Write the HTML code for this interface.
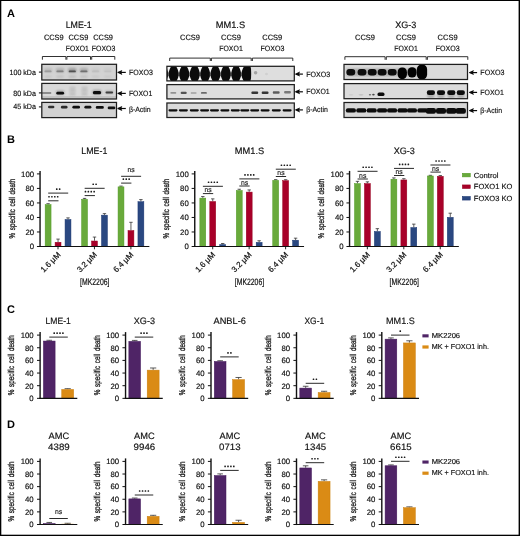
<!DOCTYPE html>
<html><head><meta charset="utf-8"><title>Figure</title>
<style>html,body{margin:0;padding:0;background:#fff;}body{width:520px;height:536px;overflow:hidden;font-family:"Liberation Sans", sans-serif;}svg{display:block;font-family:"Liberation Sans", sans-serif;}</style></head><body>
<svg width="520" height="536" viewBox="0 0 520 536" style="will-change:transform;opacity:0.9999" text-rendering="geometricPrecision">
<defs>
<filter id="b1" x="-30%" y="-80%" width="160%" height="260%"><feGaussianBlur stdDeviation="0.7"/></filter>
<filter id="b2" x="-30%" y="-80%" width="160%" height="260%"><feGaussianBlur stdDeviation="1.0"/></filter>
<filter id="b05" x="-30%" y="-80%" width="160%" height="260%"><feGaussianBlur stdDeviation="0.45"/></filter>
</defs>
<rect x="0" y="0" width="520" height="536" fill="#ffffff"/>
<rect x="0.00" y="0.00" width="520.00" height="1.00" fill="#000"/>
<rect x="0.00" y="0.00" width="1.30" height="536.00" fill="#000"/>
<rect x="518.60" y="0.00" width="1.40" height="536.00" fill="#000"/>
<rect x="0.00" y="534.70" width="520.00" height="1.30" fill="#000"/>
<text x="7.1" y="16.7" font-size="11" font-weight="bold" fill="#000">A</text>
<text x="7.1" y="142.6" font-size="11" font-weight="bold" fill="#000">B</text>
<text x="7.1" y="312.5" font-size="11" font-weight="bold" fill="#000">C</text>
<text x="7.1" y="427.5" font-size="11" font-weight="bold" fill="#000">D</text>
<text x="78.7" y="27.8" font-size="9.3" text-anchor="middle" textLength="26" lengthAdjust="spacingAndGlyphs" fill="#111" stroke="#111" stroke-width="0.16">LME-1</text>
<text x="53.8" y="39.9" font-size="7.6" text-anchor="middle" textLength="19.8" lengthAdjust="spacingAndGlyphs" fill="#111" stroke="#111" stroke-width="0.16">CCS9</text>
<text x="78.4" y="39.9" font-size="7.6" text-anchor="middle" textLength="19.8" lengthAdjust="spacingAndGlyphs" fill="#111" stroke="#111" stroke-width="0.16">CCS9</text>
<text x="103.1" y="39.9" font-size="7.6" text-anchor="middle" textLength="19.8" lengthAdjust="spacingAndGlyphs" fill="#111" stroke="#111" stroke-width="0.16">CCS9</text>
<text x="77.3" y="51.4" font-size="7.6" text-anchor="middle" textLength="23" lengthAdjust="spacingAndGlyphs" fill="#111" stroke="#111" stroke-width="0.16">FOXO1</text>
<text x="103.6" y="51.4" font-size="7.6" text-anchor="middle" textLength="23.6" lengthAdjust="spacingAndGlyphs" fill="#111" stroke="#111" stroke-width="0.16">FOXO3</text>
<path d="M42.4,59.7 L42.4,56.5 L65.9,56.5 L65.9,59.7" fill="none" stroke="#1a1a1a" stroke-width="0.9"/>
<path d="M66.9,59.7 L66.9,56.5 L90.5,56.5 L90.5,59.7" fill="none" stroke="#1a1a1a" stroke-width="0.9"/>
<path d="M91.7,59.7 L91.7,56.5 L114.8,56.5 L114.8,59.7" fill="none" stroke="#1a1a1a" stroke-width="0.9"/>
<text x="35.9" y="74.9" font-size="7.6" text-anchor="end" textLength="26.4" lengthAdjust="spacingAndGlyphs" fill="#111" stroke="#111" stroke-width="0.16">100 kDa</text>
<text x="35.9" y="95.7" font-size="7.6" text-anchor="end" textLength="22.7" lengthAdjust="spacingAndGlyphs" fill="#111" stroke="#111" stroke-width="0.16">80 kDa</text>
<text x="35.9" y="109.4" font-size="7.6" text-anchor="end" textLength="22.7" lengthAdjust="spacingAndGlyphs" fill="#111" stroke="#111" stroke-width="0.16">45 kDa</text>
<line x1="38.9" y1="72.1" x2="41.8" y2="72.1" stroke="#111" stroke-width="1.1" stroke-linecap="butt"/>
<line x1="38.9" y1="92.9" x2="41.8" y2="92.9" stroke="#111" stroke-width="1.1" stroke-linecap="butt"/>
<line x1="38.9" y1="106.9" x2="41.8" y2="106.9" stroke="#111" stroke-width="1.1" stroke-linecap="butt"/>
<clipPath id="c1"><rect x="41.8" y="64.3" width="74.70" height="15.70"/></clipPath>
<rect x="41.80" y="64.30" width="74.70" height="15.70" fill="#d3d3d3"/>
<g clip-path="url(#c1)">
<rect x="43.90" y="68.00" width="8.20" height="4.60" rx="1.5" fill="#0a0a0a" opacity="0.11000000000000001" filter="url(#b2)"/>
<rect x="44.40" y="70.45" width="7.20" height="1.90" rx="1.0" fill="#0a0a0a" opacity="0.2" filter="url(#b1)"/>
<rect x="44.30" y="75.80" width="7.40" height="1.60" rx="1" fill="#0a0a0a" opacity="0.09" filter="url(#b2)"/>
<rect x="55.90" y="68.00" width="8.20" height="4.60" rx="1.5" fill="#0a0a0a" opacity="0.164" filter="url(#b2)"/>
<rect x="56.40" y="70.45" width="7.20" height="1.90" rx="1.0" fill="#0a0a0a" opacity="0.32" filter="url(#b1)"/>
<rect x="56.30" y="75.80" width="7.40" height="1.60" rx="1" fill="#0a0a0a" opacity="0.108" filter="url(#b2)"/>
<rect x="68.20" y="68.00" width="8.20" height="4.60" rx="1.5" fill="#0a0a0a" opacity="0.2720000000000001" filter="url(#b2)"/>
<rect x="68.70" y="70.45" width="7.20" height="1.90" rx="1.0" fill="#0a0a0a" opacity="0.56" filter="url(#b1)"/>
<rect x="68.60" y="75.80" width="7.40" height="1.60" rx="1" fill="#0a0a0a" opacity="0.14400000000000002" filter="url(#b2)"/>
<rect x="79.80" y="68.00" width="8.20" height="4.60" rx="1.5" fill="#0a0a0a" opacity="0.2" filter="url(#b2)"/>
<rect x="80.30" y="70.45" width="7.20" height="1.90" rx="1.0" fill="#0a0a0a" opacity="0.4" filter="url(#b1)"/>
<rect x="80.20" y="75.80" width="7.40" height="1.60" rx="1" fill="#0a0a0a" opacity="0.12" filter="url(#b2)"/>
<rect x="91.50" y="68.00" width="8.20" height="4.60" rx="1.5" fill="#0a0a0a" opacity="0.047" filter="url(#b2)"/>
<rect x="92.00" y="70.45" width="7.20" height="1.90" rx="1.0" fill="#0a0a0a" opacity="0.06" filter="url(#b1)"/>
<rect x="91.90" y="75.80" width="7.40" height="1.60" rx="1" fill="#0a0a0a" opacity="0.06899999999999999" filter="url(#b2)"/>
<rect x="103.70" y="68.00" width="8.20" height="4.60" rx="1.5" fill="#0a0a0a" opacity="0.038000000000000006" filter="url(#b2)"/>
<rect x="104.20" y="70.45" width="7.20" height="1.90" rx="1.0" fill="#0a0a0a" opacity="0.04" filter="url(#b1)"/>
<rect x="104.10" y="75.80" width="7.40" height="1.60" rx="1" fill="#0a0a0a" opacity="0.066" filter="url(#b2)"/>
</g>
<rect x="41.8" y="64.3" width="74.70" height="15.70" fill="none" stroke="#1e1e1e" stroke-width="1.25"/>
<clipPath id="c2"><rect x="41.8" y="83.4" width="74.70" height="15.60"/></clipPath>
<rect x="41.80" y="83.40" width="74.70" height="15.60" fill="#d9d9d9"/>
<g clip-path="url(#c2)">
<rect x="41.50" y="96.00" width="75.00" height="3.20" fill="#c4c4c4" filter="url(#b1)"/>
<rect x="41.80" y="92.35" width="9.60" height="1.50" rx="1" fill="#0a0a0a" opacity="0.5" filter="url(#b1)"/>
<rect x="55.90" y="90.30" width="8.60" height="4.60" rx="2" fill="#0a0a0a" opacity="0.22" filter="url(#b2)"/>
<rect x="56.30" y="91.80" width="7.80" height="2.80" rx="1.4" fill="#0a0a0a" opacity="1.0" filter="url(#b1)"/>
<rect x="92.30" y="89.70" width="9.40" height="5.00" rx="2" fill="#0a0a0a" opacity="0.25" filter="url(#b2)"/>
<rect x="92.90" y="91.00" width="8.20" height="3.20" rx="1.5" fill="#0a0a0a" opacity="1.0" filter="url(#b1)"/>
<rect x="105.50" y="91.45" width="7.60" height="2.10" rx="1" fill="#0a0a0a" opacity="0.7" filter="url(#b1)"/>
<rect x="105.10" y="90.30" width="8.40" height="4.00" rx="1" fill="#0a0a0a" opacity="0.14" filter="url(#b2)"/>
<rect x="69.75" y="86.80" width="5.50" height="1.40" rx="1" fill="#0a0a0a" opacity="0.08" filter="url(#b2)"/>
<rect x="69.50" y="89.75" width="6.00" height="1.50" rx="1" fill="#0a0a0a" opacity="0.11" filter="url(#b2)"/>
<rect x="69.50" y="93.45" width="6.00" height="1.50" rx="1" fill="#0a0a0a" opacity="0.11" filter="url(#b2)"/>
<rect x="69.25" y="86.50" width="6.50" height="9.00" rx="1" fill="#0a0a0a" opacity="0.05" filter="url(#b2)"/>
<rect x="81.75" y="86.80" width="5.50" height="1.40" rx="1" fill="#0a0a0a" opacity="0.08" filter="url(#b2)"/>
<rect x="81.50" y="89.75" width="6.00" height="1.50" rx="1" fill="#0a0a0a" opacity="0.11" filter="url(#b2)"/>
<rect x="81.50" y="93.45" width="6.00" height="1.50" rx="1" fill="#0a0a0a" opacity="0.11" filter="url(#b2)"/>
<rect x="81.25" y="86.50" width="6.50" height="9.00" rx="1" fill="#0a0a0a" opacity="0.05" filter="url(#b2)"/>
</g>
<rect x="41.8" y="83.4" width="74.70" height="15.60" fill="none" stroke="#1e1e1e" stroke-width="1.25"/>
<clipPath id="c3"><rect x="41.8" y="102.4" width="74.70" height="15.20"/></clipPath>
<rect x="41.80" y="102.40" width="74.70" height="15.20" fill="#d2d2d2"/>
<g clip-path="url(#c3)">
<rect x="48.00" y="105.65" width="6.40" height="2.70" rx="1.3" fill="#0a0a0a" opacity="0.82" filter="url(#b1)"/>
<rect x="60.90" y="105.75" width="6.60" height="2.70" rx="1.3" fill="#0a0a0a" opacity="0.85" filter="url(#b1)"/>
<rect x="72.40" y="105.85" width="7.60" height="2.70" rx="1.3" fill="#0a0a0a" opacity="1.0" filter="url(#b1)"/>
<rect x="84.40" y="105.85" width="7.00" height="2.70" rx="1.3" fill="#0a0a0a" opacity="0.97" filter="url(#b1)"/>
<rect x="95.80" y="106.05" width="8.00" height="2.70" rx="1.3" fill="#0a0a0a" opacity="1.0" filter="url(#b1)"/>
<rect x="107.70" y="106.55" width="7.60" height="2.70" rx="1.3" fill="#0a0a0a" opacity="0.97" filter="url(#b1)"/>
</g>
<rect x="41.8" y="102.4" width="74.70" height="15.20" fill="none" stroke="#1e1e1e" stroke-width="1.25"/>
<line x1="120.2" y1="72.4" x2="125.8" y2="72.4" stroke="#0a0a0a" stroke-width="1.2" stroke-linecap="butt"/>
<path d="M117.50,71.95 L122.30,69.90 L121.40,72.40 L122.30,74.90 L117.50,72.85 Z" fill="#0a0a0a"/>
<text x="128.9" y="75.3" font-size="7.6" textLength="24.0" lengthAdjust="spacingAndGlyphs" fill="#111" stroke="#111" stroke-width="0.16">FOXO3</text>
<line x1="120.2" y1="93.4" x2="125.8" y2="93.4" stroke="#0a0a0a" stroke-width="1.2" stroke-linecap="butt"/>
<path d="M117.50,92.95 L122.30,90.90 L121.40,93.40 L122.30,95.90 L117.50,93.85 Z" fill="#0a0a0a"/>
<text x="128.9" y="96.1" font-size="7.6" textLength="23.4" lengthAdjust="spacingAndGlyphs" fill="#111" stroke="#111" stroke-width="0.16">FOXO1</text>
<line x1="120.2" y1="108.5" x2="125.8" y2="108.5" stroke="#0a0a0a" stroke-width="1.2" stroke-linecap="butt"/>
<path d="M117.50,108.05 L122.30,106.00 L121.40,108.50 L122.30,111.00 L117.50,108.95 Z" fill="#0a0a0a"/>
<text x="128.9" y="111.6" font-size="7.6" textLength="21.8" lengthAdjust="spacingAndGlyphs" fill="#111" stroke="#111" stroke-width="0.16">β-Actin</text>
<text x="230.4" y="27.8" font-size="9.3" text-anchor="middle" textLength="29.4" lengthAdjust="spacingAndGlyphs" fill="#111" stroke="#111" stroke-width="0.16">MM1.S</text>
<text x="190.0" y="39.9" font-size="7.6" text-anchor="middle" textLength="20.0" lengthAdjust="spacingAndGlyphs" fill="#111" stroke="#111" stroke-width="0.16">CCS9</text>
<text x="231.0" y="39.9" font-size="7.6" text-anchor="middle" textLength="20.0" lengthAdjust="spacingAndGlyphs" fill="#111" stroke="#111" stroke-width="0.16">CCS9</text>
<text x="272.3" y="39.9" font-size="7.6" text-anchor="middle" textLength="20.0" lengthAdjust="spacingAndGlyphs" fill="#111" stroke="#111" stroke-width="0.16">CCS9</text>
<text x="231.0" y="51.4" font-size="7.6" text-anchor="middle" textLength="23.5" lengthAdjust="spacingAndGlyphs" fill="#111" stroke="#111" stroke-width="0.16">FOXO1</text>
<text x="272.5" y="51.4" font-size="7.6" text-anchor="middle" textLength="24.0" lengthAdjust="spacingAndGlyphs" fill="#111" stroke="#111" stroke-width="0.16">FOXO3</text>
<path d="M169.7,61.0 L169.7,58.1 L210.3,58.1 L210.3,61.0" fill="none" stroke="#1a1a1a" stroke-width="0.9"/>
<path d="M211.4,61.0 L211.4,58.1 L251.2,58.1 L251.2,61.0" fill="none" stroke="#1a1a1a" stroke-width="0.9"/>
<path d="M252.4,61.0 L252.4,58.1 L292.8,58.1 L292.8,61.0" fill="none" stroke="#1a1a1a" stroke-width="0.9"/>
<clipPath id="c4"><rect x="166.9" y="66.3" width="127.40" height="14.60"/></clipPath>
<rect x="166.90" y="66.30" width="127.40" height="14.60" fill="#dedede"/>
<g clip-path="url(#c4)">
<rect x="166.90" y="65.00" width="84.50" height="17.00" fill="#0b0b0b"/>
<path d="M165.40,65.8 L171.40,65.8 Q169.50,69.0 168.60,72.4 L168.20,72.4 Q167.30,69.0 165.40,65.8 Z" fill="#f8f8f8" filter="url(#b1)"/>
<path d="M165.70,81.4 L171.10,81.4 Q169.40,78.8 168.60,76.0 L168.20,76.0 Q167.40,78.8 165.70,81.4 Z" fill="#f8f8f8" filter="url(#b1)"/>
<rect x="167.90" y="71" width="1.0" height="6.5" fill="#cfcfcf" opacity="0.5" filter="url(#b05)"/>
<path d="M175.90,65.8 L181.90,65.8 Q180.00,69.0 179.10,72.4 L178.70,72.4 Q177.80,69.0 175.90,65.8 Z" fill="#f8f8f8" filter="url(#b1)"/>
<path d="M176.20,81.4 L181.60,81.4 Q179.90,78.8 179.10,76.0 L178.70,76.0 Q177.90,78.8 176.20,81.4 Z" fill="#f8f8f8" filter="url(#b1)"/>
<rect x="178.40" y="71" width="1.0" height="6.5" fill="#cfcfcf" opacity="0.5" filter="url(#b05)"/>
<path d="M186.50,65.8 L192.50,65.8 Q190.60,69.0 189.70,72.4 L189.30,72.4 Q188.40,69.0 186.50,65.8 Z" fill="#f8f8f8" filter="url(#b1)"/>
<path d="M186.80,81.4 L192.20,81.4 Q190.50,78.8 189.70,76.0 L189.30,76.0 Q188.50,78.8 186.80,81.4 Z" fill="#f8f8f8" filter="url(#b1)"/>
<rect x="189.00" y="71" width="1.0" height="6.5" fill="#cfcfcf" opacity="0.5" filter="url(#b05)"/>
<path d="M197.00,65.8 L203.00,65.8 Q201.10,69.0 200.20,72.4 L199.80,72.4 Q198.90,69.0 197.00,65.8 Z" fill="#f8f8f8" filter="url(#b1)"/>
<path d="M197.30,81.4 L202.70,81.4 Q201.00,78.8 200.20,76.0 L199.80,76.0 Q199.00,78.8 197.30,81.4 Z" fill="#f8f8f8" filter="url(#b1)"/>
<rect x="199.50" y="71" width="1.0" height="6.5" fill="#cfcfcf" opacity="0.5" filter="url(#b05)"/>
<path d="M207.30,65.8 L213.30,65.8 Q211.40,69.0 210.50,72.4 L210.10,72.4 Q209.20,69.0 207.30,65.8 Z" fill="#f8f8f8" filter="url(#b1)"/>
<path d="M207.60,81.4 L213.00,81.4 Q211.30,78.8 210.50,76.0 L210.10,76.0 Q209.30,78.8 207.60,81.4 Z" fill="#f8f8f8" filter="url(#b1)"/>
<rect x="209.80" y="71" width="1.0" height="6.5" fill="#cfcfcf" opacity="0.5" filter="url(#b05)"/>
<path d="M217.60,65.8 L223.60,65.8 Q221.70,69.0 220.80,72.4 L220.40,72.4 Q219.50,69.0 217.60,65.8 Z" fill="#f8f8f8" filter="url(#b1)"/>
<path d="M217.90,81.4 L223.30,81.4 Q221.60,78.8 220.80,76.0 L220.40,76.0 Q219.60,78.8 217.90,81.4 Z" fill="#f8f8f8" filter="url(#b1)"/>
<rect x="220.10" y="71" width="1.0" height="6.5" fill="#cfcfcf" opacity="0.5" filter="url(#b05)"/>
<path d="M228.00,65.8 L234.00,65.8 Q232.10,69.0 231.20,72.4 L230.80,72.4 Q229.90,69.0 228.00,65.8 Z" fill="#f8f8f8" filter="url(#b1)"/>
<path d="M228.30,81.4 L233.70,81.4 Q232.00,78.8 231.20,76.0 L230.80,76.0 Q230.00,78.8 228.30,81.4 Z" fill="#f8f8f8" filter="url(#b1)"/>
<rect x="230.50" y="71" width="1.0" height="6.5" fill="#cfcfcf" opacity="0.5" filter="url(#b05)"/>
<path d="M238.30,65.8 L244.30,65.8 Q242.40,69.0 241.50,72.4 L241.10,72.4 Q240.20,69.0 238.30,65.8 Z" fill="#f8f8f8" filter="url(#b1)"/>
<path d="M238.60,81.4 L244.00,81.4 Q242.30,78.8 241.50,76.0 L241.10,76.0 Q240.30,78.8 238.60,81.4 Z" fill="#f8f8f8" filter="url(#b1)"/>
<rect x="240.80" y="71" width="1.0" height="6.5" fill="#cfcfcf" opacity="0.5" filter="url(#b05)"/>
<path d="M250.2,65 Q252.6,73.5 250.2,82 L253.5,82 L253.5,65 Z" fill="#dedede" filter="url(#b05)"/>
<ellipse cx="255.6" cy="72.8" rx="1.75" ry="1.75" fill="#0a0a0a" opacity="0.28" filter="url(#b1)"/>
<ellipse cx="266.5" cy="74.0" rx="1.50" ry="1.25" fill="#0a0a0a" opacity="0.06" filter="url(#b1)"/>
</g>
<rect x="166.9" y="66.3" width="127.40" height="14.60" fill="none" stroke="#1e1e1e" stroke-width="1.25"/>
<clipPath id="c5"><rect x="166.9" y="84.6" width="127.40" height="14.30"/></clipPath>
<rect x="166.90" y="84.60" width="127.40" height="14.30" fill="#dedede"/>
<g clip-path="url(#c5)">
<rect x="170.30" y="92.10" width="6.00" height="1.60" rx="1" fill="#0a0a0a" opacity="0.36" filter="url(#b1)"/>
<rect x="180.70" y="91.80" width="6.00" height="2.20" rx="1" fill="#0a0a0a" opacity="0.66" filter="url(#b1)"/>
<rect x="190.60" y="92.15" width="6.00" height="1.50" rx="1" fill="#0a0a0a" opacity="0.3" filter="url(#b1)"/>
<rect x="200.90" y="91.95" width="6.00" height="1.90" rx="1" fill="#0a0a0a" opacity="0.55" filter="url(#b1)"/>
<rect x="251.40" y="91.50" width="6.80" height="2.40" rx="1" fill="#0a0a0a" opacity="0.8" filter="url(#b1)"/>
<rect x="261.70" y="91.50" width="6.80" height="2.40" rx="1" fill="#0a0a0a" opacity="0.8" filter="url(#b1)"/>
<rect x="272.80" y="91.30" width="6.80" height="2.40" rx="1" fill="#0a0a0a" opacity="0.62" filter="url(#b1)"/>
<rect x="284.10" y="91.00" width="6.80" height="2.40" rx="1" fill="#0a0a0a" opacity="0.48" filter="url(#b1)"/>
</g>
<rect x="166.9" y="84.6" width="127.40" height="14.30" fill="none" stroke="#1e1e1e" stroke-width="1.25"/>
<clipPath id="c6"><rect x="166.9" y="103.0" width="127.40" height="14.50"/></clipPath>
<rect x="166.90" y="103.00" width="127.40" height="14.50" fill="#dadada"/>
<g clip-path="url(#c6)">
<rect x="168.50" y="109.15" width="9.00" height="2.30" rx="1.1" fill="#0a0a0a" opacity="1.0" filter="url(#b05)"/>
<rect x="178.90" y="109.15" width="9.00" height="2.30" rx="1.1" fill="#0a0a0a" opacity="1.0" filter="url(#b05)"/>
<rect x="189.80" y="109.15" width="9.00" height="2.30" rx="1.1" fill="#0a0a0a" opacity="1.0" filter="url(#b05)"/>
<rect x="200.10" y="109.15" width="9.00" height="2.30" rx="1.1" fill="#0a0a0a" opacity="1.0" filter="url(#b05)"/>
<rect x="210.00" y="109.15" width="9.00" height="2.30" rx="1.1" fill="#0a0a0a" opacity="1.0" filter="url(#b05)"/>
<rect x="220.40" y="109.15" width="9.00" height="2.30" rx="1.1" fill="#0a0a0a" opacity="1.0" filter="url(#b05)"/>
<rect x="230.80" y="109.15" width="9.00" height="2.30" rx="1.1" fill="#0a0a0a" opacity="1.0" filter="url(#b05)"/>
<rect x="240.30" y="109.15" width="9.00" height="2.30" rx="1.1" fill="#0a0a0a" opacity="1.0" filter="url(#b05)"/>
<rect x="250.20" y="109.15" width="9.00" height="2.30" rx="1.1" fill="#0a0a0a" opacity="1.0" filter="url(#b05)"/>
<rect x="260.60" y="109.15" width="9.00" height="2.30" rx="1.1" fill="#0a0a0a" opacity="1.0" filter="url(#b05)"/>
<rect x="271.80" y="109.15" width="9.00" height="2.30" rx="1.1" fill="#0a0a0a" opacity="1.0" filter="url(#b05)"/>
<rect x="282.60" y="109.15" width="9.00" height="2.30" rx="1.1" fill="#0a0a0a" opacity="1.0" filter="url(#b05)"/>
</g>
<rect x="166.9" y="103.0" width="127.40" height="14.50" fill="none" stroke="#1e1e1e" stroke-width="1.25"/>
<line x1="297.9" y1="74.1" x2="302.9" y2="74.1" stroke="#0a0a0a" stroke-width="1.2" stroke-linecap="butt"/>
<path d="M295.20,73.65 L300.00,71.60 L299.10,74.10 L300.00,76.60 L295.20,74.55 Z" fill="#0a0a0a"/>
<text x="306.2" y="76.8" font-size="7.6" textLength="24.1" lengthAdjust="spacingAndGlyphs" fill="#111" stroke="#111" stroke-width="0.16">FOXO3</text>
<line x1="297.9" y1="91.8" x2="302.9" y2="91.8" stroke="#0a0a0a" stroke-width="1.2" stroke-linecap="butt"/>
<path d="M295.20,91.35 L300.00,89.30 L299.10,91.80 L300.00,94.30 L295.20,92.25 Z" fill="#0a0a0a"/>
<text x="306.2" y="94.3" font-size="7.6" textLength="23.5" lengthAdjust="spacingAndGlyphs" fill="#111" stroke="#111" stroke-width="0.16">FOXO1</text>
<line x1="297.9" y1="109.9" x2="302.9" y2="109.9" stroke="#0a0a0a" stroke-width="1.2" stroke-linecap="butt"/>
<path d="M295.20,109.45 L300.00,107.40 L299.10,109.90 L300.00,112.40 L295.20,110.35 Z" fill="#0a0a0a"/>
<text x="306.2" y="112.0" font-size="7.6" textLength="21.7" lengthAdjust="spacingAndGlyphs" fill="#111" stroke="#111" stroke-width="0.16">β-Actin</text>
<text x="405.8" y="27.8" font-size="9.3" text-anchor="middle" textLength="21.2" lengthAdjust="spacingAndGlyphs" fill="#111" stroke="#111" stroke-width="0.16">XG-3</text>
<text x="365.0" y="39.9" font-size="7.6" text-anchor="middle" textLength="20.0" lengthAdjust="spacingAndGlyphs" fill="#111" stroke="#111" stroke-width="0.16">CCS9</text>
<text x="406.0" y="39.9" font-size="7.6" text-anchor="middle" textLength="20.0" lengthAdjust="spacingAndGlyphs" fill="#111" stroke="#111" stroke-width="0.16">CCS9</text>
<text x="447.6" y="39.9" font-size="7.6" text-anchor="middle" textLength="20.0" lengthAdjust="spacingAndGlyphs" fill="#111" stroke="#111" stroke-width="0.16">CCS9</text>
<text x="406.0" y="51.4" font-size="7.6" text-anchor="middle" textLength="23.5" lengthAdjust="spacingAndGlyphs" fill="#111" stroke="#111" stroke-width="0.16">FOXO1</text>
<text x="447.7" y="51.4" font-size="7.6" text-anchor="middle" textLength="24.0" lengthAdjust="spacingAndGlyphs" fill="#111" stroke="#111" stroke-width="0.16">FOXO3</text>
<path d="M344.9,59.8 L344.9,56.7 L385.1,56.7 L385.1,59.8" fill="none" stroke="#1a1a1a" stroke-width="0.9"/>
<path d="M386.3,59.8 L386.3,56.7 L426.2,56.7 L426.2,59.8" fill="none" stroke="#1a1a1a" stroke-width="0.9"/>
<path d="M427.4,59.8 L427.4,56.7 L467.8,56.7 L467.8,59.8" fill="none" stroke="#1a1a1a" stroke-width="0.9"/>
<clipPath id="c7"><rect x="344.0" y="64.4" width="123.50" height="15.10"/></clipPath>
<rect x="344.00" y="64.40" width="123.50" height="15.10" fill="#dadada"/>
<g clip-path="url(#c7)">
<rect x="346.50" y="68.60" width="80.00" height="7.60" fill="#000" opacity="0.22" filter="url(#b2)"/>
<rect x="346.40" y="68.9" width="8.8" height="6.5" rx="3.2" ry="3.0" fill="#080808" filter="url(#b1)"/>
<rect x="357.60" y="68.9" width="8.8" height="6.5" rx="3.2" ry="3.0" fill="#080808" filter="url(#b1)"/>
<rect x="367.80" y="68.9" width="8.8" height="6.5" rx="3.2" ry="3.0" fill="#080808" filter="url(#b1)"/>
<rect x="377.70" y="68.9" width="8.8" height="6.5" rx="3.2" ry="3.0" fill="#080808" filter="url(#b1)"/>
<rect x="387.80" y="68.9" width="8.8" height="6.5" rx="3.2" ry="3.0" fill="#080808" filter="url(#b1)"/>
<rect x="397.70" y="67.40" width="9.2" height="11.8" rx="4.2" ry="4.8" fill="#060606" filter="url(#b1)"/>
<rect x="407.60" y="67.20" width="9.0" height="10.4" rx="4.2" ry="4.8" fill="#060606" filter="url(#b1)"/>
<rect x="416.90" y="64.70" width="10.2" height="14.6" rx="4.2" ry="4.8" fill="#060606" filter="url(#b1)"/>
</g>
<rect x="344.0" y="64.4" width="123.50" height="15.10" fill="none" stroke="#1e1e1e" stroke-width="1.25"/>
<clipPath id="c8"><rect x="344.0" y="83.6" width="123.50" height="15.10"/></clipPath>
<rect x="344.00" y="83.60" width="123.50" height="15.10" fill="#dcdcdc"/>
<g clip-path="url(#c8)">
<ellipse cx="351.0" cy="94.8" rx="2.50" ry="0.60" fill="#0a0a0a" opacity="0.08" filter="url(#b1)"/>
<ellipse cx="361.0" cy="94.8" rx="2.50" ry="0.65" fill="#0a0a0a" opacity="0.15" filter="url(#b1)"/>
<ellipse cx="370.0" cy="94.8" rx="1.20" ry="0.75" fill="#0a0a0a" opacity="0.55" filter="url(#b05)"/>
<ellipse cx="373.4" cy="94.6" rx="1.30" ry="0.85" fill="#0a0a0a" opacity="0.7" filter="url(#b05)"/>
<rect x="377.50" y="92.60" width="7.00" height="3.40" rx="1.6" fill="#0a0a0a" opacity="1.0" filter="url(#b1)"/>
<rect x="427.30" y="94.80" width="7.20" height="2.80" rx="1" fill="#0a0a0a" opacity="0.3" filter="url(#b2)"/>
<rect x="426.80" y="90.20" width="8.20" height="4.80" rx="2.2" fill="#0a0a0a" opacity="1.0" filter="url(#b1)"/>
<rect x="437.40" y="94.80" width="7.20" height="2.80" rx="1" fill="#0a0a0a" opacity="0.3" filter="url(#b2)"/>
<rect x="436.90" y="90.20" width="8.20" height="4.80" rx="2.2" fill="#0a0a0a" opacity="1.0" filter="url(#b1)"/>
<rect x="447.70" y="94.80" width="7.20" height="2.80" rx="1" fill="#0a0a0a" opacity="0.3" filter="url(#b2)"/>
<rect x="447.20" y="90.20" width="8.20" height="4.80" rx="2.2" fill="#0a0a0a" opacity="1.0" filter="url(#b1)"/>
<rect x="457.20" y="94.80" width="7.20" height="2.80" rx="1" fill="#0a0a0a" opacity="0.3" filter="url(#b2)"/>
<rect x="456.70" y="90.20" width="8.20" height="4.80" rx="2.2" fill="#0a0a0a" opacity="1.0" filter="url(#b1)"/>
</g>
<rect x="344.0" y="83.6" width="123.50" height="15.10" fill="none" stroke="#1e1e1e" stroke-width="1.25"/>
<clipPath id="c9"><rect x="344.0" y="102.5" width="123.50" height="15.00"/></clipPath>
<rect x="344.00" y="102.50" width="123.50" height="15.00" fill="#d8d8d8"/>
<g clip-path="url(#c9)">
<rect x="345.80" y="108.20" width="10.20" height="4.40" rx="2.2" fill="#0a0a0a" opacity="1.0" filter="url(#b1)"/>
<rect x="356.20" y="108.20" width="10.20" height="4.40" rx="2.2" fill="#0a0a0a" opacity="1.0" filter="url(#b1)"/>
<rect x="366.60" y="108.20" width="10.20" height="4.40" rx="2.2" fill="#0a0a0a" opacity="1.0" filter="url(#b1)"/>
<rect x="377.00" y="108.20" width="10.20" height="4.40" rx="2.2" fill="#0a0a0a" opacity="1.0" filter="url(#b1)"/>
<rect x="387.00" y="108.20" width="10.20" height="4.40" rx="2.2" fill="#0a0a0a" opacity="1.0" filter="url(#b1)"/>
<rect x="397.40" y="108.20" width="10.20" height="4.40" rx="2.2" fill="#0a0a0a" opacity="1.0" filter="url(#b1)"/>
<rect x="406.90" y="108.20" width="10.20" height="4.40" rx="2.2" fill="#0a0a0a" opacity="1.0" filter="url(#b1)"/>
<rect x="417.30" y="108.20" width="10.20" height="4.40" rx="2.2" fill="#0a0a0a" opacity="1.0" filter="url(#b1)"/>
<rect x="425.80" y="107.95" width="10.20" height="5.70" rx="2.2" fill="#0a0a0a" opacity="1.0" filter="url(#b1)"/>
<rect x="435.90" y="107.95" width="10.20" height="5.70" rx="2.2" fill="#0a0a0a" opacity="1.0" filter="url(#b1)"/>
<rect x="446.20" y="107.95" width="10.20" height="5.70" rx="2.2" fill="#0a0a0a" opacity="1.0" filter="url(#b1)"/>
<rect x="455.70" y="107.95" width="10.20" height="5.70" rx="2.2" fill="#0a0a0a" opacity="1.0" filter="url(#b1)"/>
</g>
<rect x="344.0" y="102.5" width="123.50" height="15.00" fill="none" stroke="#1e1e1e" stroke-width="1.25"/>
<line x1="471.8" y1="72.6" x2="477.1" y2="72.6" stroke="#0a0a0a" stroke-width="1.2" stroke-linecap="butt"/>
<path d="M469.10,72.15 L473.90,70.10 L473.00,72.60 L473.90,75.10 L469.10,73.05 Z" fill="#0a0a0a"/>
<text x="480.3" y="75.2" font-size="7.6" textLength="24.2" lengthAdjust="spacingAndGlyphs" fill="#111" stroke="#111" stroke-width="0.16">FOXO3</text>
<line x1="471.8" y1="92.4" x2="477.1" y2="92.4" stroke="#0a0a0a" stroke-width="1.2" stroke-linecap="butt"/>
<path d="M469.10,91.95 L473.90,89.90 L473.00,92.40 L473.90,94.90 L469.10,92.85 Z" fill="#0a0a0a"/>
<text x="480.3" y="94.9" font-size="7.6" textLength="23.6" lengthAdjust="spacingAndGlyphs" fill="#111" stroke="#111" stroke-width="0.16">FOXO1</text>
<line x1="471.8" y1="110.6" x2="477.1" y2="110.6" stroke="#0a0a0a" stroke-width="1.2" stroke-linecap="butt"/>
<path d="M469.10,110.15 L473.90,108.10 L473.00,110.60 L473.90,113.10 L469.10,111.05 Z" fill="#0a0a0a"/>
<text x="480.3" y="112.8" font-size="7.6" textLength="21.7" lengthAdjust="spacingAndGlyphs" fill="#111" stroke="#111" stroke-width="0.16">β-Actin</text>
<text x="94.3" y="153.5" font-size="9.3" text-anchor="middle" textLength="26.0" lengthAdjust="spacingAndGlyphs" fill="#111" stroke="#111" stroke-width="0.16">LME-1</text>
<text transform="translate(14.50,208.60) rotate(-90)" font-size="8.5" text-anchor="middle" textLength="59.6" lengthAdjust="spacingAndGlyphs" word-spacing="1.2" fill="#111" stroke="#111" stroke-width="0.28">% specific cell death</text>
<line x1="48.1" y1="203.692" x2="48.1" y2="204.392" stroke="#333" stroke-width="0.8" stroke-linecap="butt"/>
<line x1="46.4" y1="203.692" x2="49.800000000000004" y2="203.692" stroke="#333" stroke-width="0.8" stroke-linecap="butt"/>
<rect x="45.15" y="204.64" width="5.90" height="41.86" fill="#69aa3b" stroke="#539a26" stroke-width="0.5"/>
<line x1="58.05" y1="239.09879999999998" x2="58.05" y2="241.9988" stroke="#333" stroke-width="0.8" stroke-linecap="butt"/>
<line x1="56.349999999999994" y1="239.09879999999998" x2="59.75" y2="239.09879999999998" stroke="#333" stroke-width="0.8" stroke-linecap="butt"/>
<rect x="55.10" y="242.25" width="5.90" height="4.25" fill="#a80029" stroke="#96001f" stroke-width="0.5"/>
<line x1="68.0" y1="217.875" x2="68.0" y2="219.275" stroke="#333" stroke-width="0.8" stroke-linecap="butt"/>
<line x1="66.3" y1="217.875" x2="69.7" y2="217.875" stroke="#333" stroke-width="0.8" stroke-linecap="butt"/>
<rect x="65.05" y="219.53" width="5.90" height="26.97" fill="#2a4881" stroke="#1a3670" stroke-width="0.5"/>
<line x1="57.99999999999999" y1="246.5" x2="57.99999999999999" y2="249.3" stroke="#111" stroke-width="0.9" stroke-linecap="butt"/>
<text transform="translate(61.10,255.40) rotate(-45)" font-size="8.0" text-anchor="end" fill="#111" stroke="#111" stroke-width="0.2">1.6 μM</text>
<line x1="48.199999999999996" y1="200.8" x2="58.5" y2="200.8" stroke="#2a2a2a" stroke-width="1.0" stroke-linecap="butt"/>
<rect x="48.20" y="196.00" width="1.6" height="1.6" rx="0.5" fill="#1c1c1c"/>
<rect x="51.10" y="196.00" width="1.6" height="1.6" rx="0.5" fill="#1c1c1c"/>
<rect x="54.00" y="196.00" width="1.6" height="1.6" rx="0.5" fill="#1c1c1c"/>
<rect x="56.90" y="196.00" width="1.6" height="1.6" rx="0.5" fill="#1c1c1c"/>
<line x1="48.199999999999996" y1="193.1" x2="68.2" y2="193.1" stroke="#2a2a2a" stroke-width="1.0" stroke-linecap="butt"/>
<rect x="55.95" y="188.30" width="1.6" height="1.6" rx="0.5" fill="#1c1c1c"/>
<rect x="58.85" y="188.30" width="1.6" height="1.6" rx="0.5" fill="#1c1c1c"/>
<line x1="84.55" y1="198.3922" x2="84.55" y2="199.0922" stroke="#333" stroke-width="0.8" stroke-linecap="butt"/>
<line x1="82.85" y1="198.3922" x2="86.25" y2="198.3922" stroke="#333" stroke-width="0.8" stroke-linecap="butt"/>
<rect x="81.60" y="199.34" width="5.90" height="47.16" fill="#69aa3b" stroke="#539a26" stroke-width="0.5"/>
<line x1="94.5" y1="237.0646" x2="94.5" y2="240.7646" stroke="#333" stroke-width="0.8" stroke-linecap="butt"/>
<line x1="92.8" y1="237.0646" x2="96.2" y2="237.0646" stroke="#333" stroke-width="0.8" stroke-linecap="butt"/>
<rect x="91.55" y="241.01" width="5.90" height="5.49" fill="#a80029" stroke="#96001f" stroke-width="0.5"/>
<line x1="104.45" y1="213.619" x2="104.45" y2="214.919" stroke="#333" stroke-width="0.8" stroke-linecap="butt"/>
<line x1="102.75" y1="213.619" x2="106.15" y2="213.619" stroke="#333" stroke-width="0.8" stroke-linecap="butt"/>
<rect x="101.50" y="215.17" width="5.90" height="31.33" fill="#2a4881" stroke="#1a3670" stroke-width="0.5"/>
<line x1="94.45" y1="246.5" x2="94.45" y2="249.3" stroke="#111" stroke-width="0.9" stroke-linecap="butt"/>
<text transform="translate(97.55,255.40) rotate(-45)" font-size="8.0" text-anchor="end" fill="#111" stroke="#111" stroke-width="0.2">3.2 μM</text>
<line x1="84.64999999999999" y1="195.6" x2="94.94999999999999" y2="195.6" stroke="#2a2a2a" stroke-width="1.0" stroke-linecap="butt"/>
<rect x="84.65" y="190.80" width="1.6" height="1.6" rx="0.5" fill="#1c1c1c"/>
<rect x="87.55" y="190.80" width="1.6" height="1.6" rx="0.5" fill="#1c1c1c"/>
<rect x="90.45" y="190.80" width="1.6" height="1.6" rx="0.5" fill="#1c1c1c"/>
<rect x="93.35" y="190.80" width="1.6" height="1.6" rx="0.5" fill="#1c1c1c"/>
<line x1="84.64999999999999" y1="188.3" x2="104.64999999999999" y2="188.3" stroke="#2a2a2a" stroke-width="1.0" stroke-linecap="butt"/>
<rect x="92.40" y="183.50" width="1.6" height="1.6" rx="0.5" fill="#1c1c1c"/>
<rect x="95.30" y="183.50" width="1.6" height="1.6" rx="0.5" fill="#1c1c1c"/>
<line x1="121.00000000000001" y1="186.10500000000002" x2="121.00000000000001" y2="186.60500000000002" stroke="#333" stroke-width="0.8" stroke-linecap="butt"/>
<line x1="119.30000000000001" y1="186.10500000000002" x2="122.70000000000002" y2="186.10500000000002" stroke="#333" stroke-width="0.8" stroke-linecap="butt"/>
<rect x="118.05" y="186.86" width="5.90" height="59.64" fill="#69aa3b" stroke="#539a26" stroke-width="0.5"/>
<line x1="130.95000000000002" y1="222.3102" x2="130.95000000000002" y2="230.3102" stroke="#333" stroke-width="0.8" stroke-linecap="butt"/>
<line x1="129.25000000000003" y1="222.3102" x2="132.65" y2="222.3102" stroke="#333" stroke-width="0.8" stroke-linecap="butt"/>
<rect x="128.00" y="230.56" width="5.90" height="15.94" fill="#a80029" stroke="#96001f" stroke-width="0.5"/>
<line x1="140.9" y1="199.588" x2="140.9" y2="201.488" stroke="#333" stroke-width="0.8" stroke-linecap="butt"/>
<line x1="139.20000000000002" y1="199.588" x2="142.6" y2="199.588" stroke="#333" stroke-width="0.8" stroke-linecap="butt"/>
<rect x="137.95" y="201.74" width="5.90" height="44.76" fill="#2a4881" stroke="#1a3670" stroke-width="0.5"/>
<line x1="130.9" y1="246.5" x2="130.9" y2="249.3" stroke="#111" stroke-width="0.9" stroke-linecap="butt"/>
<text transform="translate(134.00,255.40) rotate(-45)" font-size="8.0" text-anchor="end" fill="#111" stroke="#111" stroke-width="0.2">6.4 μM</text>
<line x1="121.10000000000001" y1="183.1" x2="131.4" y2="183.1" stroke="#2a2a2a" stroke-width="1.0" stroke-linecap="butt"/>
<rect x="122.55" y="178.30" width="1.6" height="1.6" rx="0.5" fill="#1c1c1c"/>
<rect x="125.45" y="178.30" width="1.6" height="1.6" rx="0.5" fill="#1c1c1c"/>
<rect x="128.35" y="178.30" width="1.6" height="1.6" rx="0.5" fill="#1c1c1c"/>
<line x1="121.10000000000001" y1="176.3" x2="141.10000000000002" y2="176.3" stroke="#2a2a2a" stroke-width="1.0" stroke-linecap="butt"/>
<text x="131.10000000000002" y="171.65000000000003" font-size="7.1" text-anchor="middle" textLength="7.2" lengthAdjust="spacingAndGlyphs" fill="#222" stroke="#222" stroke-width="0.16">ns</text>
<line x1="39.349999999999994" y1="246.5" x2="149.35" y2="246.5" stroke="#111" stroke-width="1.2" stroke-linecap="butt"/>
<line x1="40.05" y1="170.9" x2="40.05" y2="247.05" stroke="#111" stroke-width="1.4" stroke-linecap="butt"/>
<line x1="36.949999999999996" y1="246.5" x2="40.05" y2="246.5" stroke="#111" stroke-width="1.0" stroke-linecap="butt"/>
<text x="34.099999999999994" y="249.3" font-size="7.8" text-anchor="end" fill="#111" stroke="#111" stroke-width="0.16">0</text>
<line x1="36.949999999999996" y1="231.98" x2="40.05" y2="231.98" stroke="#111" stroke-width="1.0" stroke-linecap="butt"/>
<text x="34.099999999999994" y="234.78" font-size="7.8" text-anchor="end" fill="#111" stroke="#111" stroke-width="0.16">20</text>
<line x1="36.949999999999996" y1="217.46" x2="40.05" y2="217.46" stroke="#111" stroke-width="1.0" stroke-linecap="butt"/>
<text x="34.099999999999994" y="220.26000000000002" font-size="7.8" text-anchor="end" fill="#111" stroke="#111" stroke-width="0.16">40</text>
<line x1="36.949999999999996" y1="202.94" x2="40.05" y2="202.94" stroke="#111" stroke-width="1.0" stroke-linecap="butt"/>
<text x="34.099999999999994" y="205.74" font-size="7.8" text-anchor="end" fill="#111" stroke="#111" stroke-width="0.16">60</text>
<line x1="36.949999999999996" y1="188.42000000000002" x2="40.05" y2="188.42000000000002" stroke="#111" stroke-width="1.0" stroke-linecap="butt"/>
<text x="34.099999999999994" y="191.22000000000003" font-size="7.8" text-anchor="end" fill="#111" stroke="#111" stroke-width="0.16">80</text>
<line x1="36.949999999999996" y1="173.9" x2="40.05" y2="173.9" stroke="#111" stroke-width="1.0" stroke-linecap="butt"/>
<text x="34.099999999999994" y="176.70000000000002" font-size="7.8" text-anchor="end" fill="#111" stroke="#111" stroke-width="0.16">100</text>
<text x="94.75" y="285.3" font-size="9.3" text-anchor="middle" textLength="29.3" lengthAdjust="spacingAndGlyphs" fill="#111" stroke="#111" stroke-width="0.2">[MK2206]</text>
<text x="249.5" y="153.5" font-size="9.3" text-anchor="middle" textLength="29.4" lengthAdjust="spacingAndGlyphs" fill="#111" stroke="#111" stroke-width="0.16">MM1.S</text>
<text transform="translate(169.20,208.60) rotate(-90)" font-size="8.5" text-anchor="middle" textLength="59.6" lengthAdjust="spacingAndGlyphs" word-spacing="1.2" fill="#111" stroke="#111" stroke-width="0.28">% specific cell death</text>
<line x1="202.79999999999998" y1="196.558" x2="202.79999999999998" y2="197.858" stroke="#333" stroke-width="0.8" stroke-linecap="butt"/>
<line x1="201.1" y1="196.558" x2="204.49999999999997" y2="196.558" stroke="#333" stroke-width="0.8" stroke-linecap="butt"/>
<rect x="199.85" y="198.11" width="5.90" height="48.39" fill="#69aa3b" stroke="#539a26" stroke-width="0.5"/>
<line x1="212.74999999999997" y1="198.87019999999998" x2="212.74999999999997" y2="201.2702" stroke="#333" stroke-width="0.8" stroke-linecap="butt"/>
<line x1="211.04999999999998" y1="198.87019999999998" x2="214.44999999999996" y2="198.87019999999998" stroke="#333" stroke-width="0.8" stroke-linecap="butt"/>
<rect x="209.80" y="201.52" width="5.90" height="44.98" fill="#a80029" stroke="#96001f" stroke-width="0.5"/>
<line x1="222.7" y1="243.522" x2="222.7" y2="244.322" stroke="#333" stroke-width="0.8" stroke-linecap="butt"/>
<line x1="221.0" y1="243.522" x2="224.39999999999998" y2="243.522" stroke="#333" stroke-width="0.8" stroke-linecap="butt"/>
<rect x="219.75" y="244.57" width="5.90" height="1.93" fill="#2a4881" stroke="#1a3670" stroke-width="0.5"/>
<line x1="212.7" y1="246.5" x2="212.7" y2="249.3" stroke="#111" stroke-width="0.9" stroke-linecap="butt"/>
<text transform="translate(215.80,255.40) rotate(-45)" font-size="8.0" text-anchor="end" fill="#111" stroke="#111" stroke-width="0.2">1.6 μM</text>
<line x1="202.9" y1="193.6" x2="213.2" y2="193.6" stroke="#2a2a2a" stroke-width="1.0" stroke-linecap="butt"/>
<text x="208.05" y="192.15" font-size="7.1" text-anchor="middle" textLength="7.2" lengthAdjust="spacingAndGlyphs" fill="#222" stroke="#222" stroke-width="0.16">ns</text>
<line x1="202.9" y1="186.3" x2="222.9" y2="186.3" stroke="#2a2a2a" stroke-width="1.0" stroke-linecap="butt"/>
<rect x="207.75" y="181.50" width="1.6" height="1.6" rx="0.5" fill="#1c1c1c"/>
<rect x="210.65" y="181.50" width="1.6" height="1.6" rx="0.5" fill="#1c1c1c"/>
<rect x="213.55" y="181.50" width="1.6" height="1.6" rx="0.5" fill="#1c1c1c"/>
<rect x="216.45" y="181.50" width="1.6" height="1.6" rx="0.5" fill="#1c1c1c"/>
<line x1="239.25" y1="189.235" x2="239.25" y2="190.235" stroke="#333" stroke-width="0.8" stroke-linecap="butt"/>
<line x1="237.55" y1="189.235" x2="240.95" y2="189.235" stroke="#333" stroke-width="0.8" stroke-linecap="butt"/>
<rect x="236.30" y="190.49" width="5.90" height="56.01" fill="#69aa3b" stroke="#539a26" stroke-width="0.5"/>
<line x1="249.2" y1="189.9322" x2="249.2" y2="191.8322" stroke="#333" stroke-width="0.8" stroke-linecap="butt"/>
<line x1="247.5" y1="189.9322" x2="250.89999999999998" y2="189.9322" stroke="#333" stroke-width="0.8" stroke-linecap="butt"/>
<rect x="246.25" y="192.08" width="5.90" height="54.42" fill="#a80029" stroke="#96001f" stroke-width="0.5"/>
<line x1="259.15000000000003" y1="240.744" x2="259.15000000000003" y2="242.144" stroke="#333" stroke-width="0.8" stroke-linecap="butt"/>
<line x1="257.45000000000005" y1="240.744" x2="260.85" y2="240.744" stroke="#333" stroke-width="0.8" stroke-linecap="butt"/>
<rect x="256.20" y="242.39" width="5.90" height="4.11" fill="#2a4881" stroke="#1a3670" stroke-width="0.5"/>
<line x1="249.15" y1="246.5" x2="249.15" y2="249.3" stroke="#111" stroke-width="0.9" stroke-linecap="butt"/>
<text transform="translate(252.25,255.40) rotate(-45)" font-size="8.0" text-anchor="end" fill="#111" stroke="#111" stroke-width="0.2">3.2 μM</text>
<line x1="239.35000000000002" y1="186.0" x2="249.65" y2="186.0" stroke="#2a2a2a" stroke-width="1.0" stroke-linecap="butt"/>
<text x="244.5" y="184.55" font-size="7.1" text-anchor="middle" textLength="7.2" lengthAdjust="spacingAndGlyphs" fill="#222" stroke="#222" stroke-width="0.16">ns</text>
<line x1="239.35000000000002" y1="178.9" x2="259.35" y2="178.9" stroke="#2a2a2a" stroke-width="1.0" stroke-linecap="butt"/>
<rect x="244.20" y="174.10" width="1.6" height="1.6" rx="0.5" fill="#1c1c1c"/>
<rect x="247.10" y="174.10" width="1.6" height="1.6" rx="0.5" fill="#1c1c1c"/>
<rect x="250.00" y="174.10" width="1.6" height="1.6" rx="0.5" fill="#1c1c1c"/>
<rect x="252.90" y="174.10" width="1.6" height="1.6" rx="0.5" fill="#1c1c1c"/>
<line x1="275.7" y1="179.671" x2="275.7" y2="180.071" stroke="#333" stroke-width="0.8" stroke-linecap="butt"/>
<line x1="274.0" y1="179.671" x2="277.4" y2="179.671" stroke="#333" stroke-width="0.8" stroke-linecap="butt"/>
<rect x="272.75" y="180.32" width="5.90" height="66.18" fill="#69aa3b" stroke="#539a26" stroke-width="0.5"/>
<line x1="285.65" y1="179.73400000000004" x2="285.65" y2="180.43400000000003" stroke="#333" stroke-width="0.8" stroke-linecap="butt"/>
<line x1="283.95" y1="179.73400000000004" x2="287.34999999999997" y2="179.73400000000004" stroke="#333" stroke-width="0.8" stroke-linecap="butt"/>
<rect x="282.70" y="180.68" width="5.90" height="65.82" fill="#a80029" stroke="#96001f" stroke-width="0.5"/>
<line x1="295.59999999999997" y1="238.166" x2="295.59999999999997" y2="239.966" stroke="#333" stroke-width="0.8" stroke-linecap="butt"/>
<line x1="293.9" y1="238.166" x2="297.29999999999995" y2="238.166" stroke="#333" stroke-width="0.8" stroke-linecap="butt"/>
<rect x="292.65" y="240.22" width="5.90" height="6.28" fill="#2a4881" stroke="#1a3670" stroke-width="0.5"/>
<line x1="285.59999999999997" y1="246.5" x2="285.59999999999997" y2="249.3" stroke="#111" stroke-width="0.9" stroke-linecap="butt"/>
<text transform="translate(288.70,255.40) rotate(-45)" font-size="8.0" text-anchor="end" fill="#111" stroke="#111" stroke-width="0.2">6.4 μM</text>
<line x1="275.8" y1="176.5" x2="286.1" y2="176.5" stroke="#2a2a2a" stroke-width="1.0" stroke-linecap="butt"/>
<text x="280.95000000000005" y="175.05" font-size="7.1" text-anchor="middle" textLength="7.2" lengthAdjust="spacingAndGlyphs" fill="#222" stroke="#222" stroke-width="0.16">ns</text>
<line x1="275.8" y1="169.2" x2="295.8" y2="169.2" stroke="#2a2a2a" stroke-width="1.0" stroke-linecap="butt"/>
<rect x="280.65" y="164.40" width="1.6" height="1.6" rx="0.5" fill="#1c1c1c"/>
<rect x="283.55" y="164.40" width="1.6" height="1.6" rx="0.5" fill="#1c1c1c"/>
<rect x="286.45" y="164.40" width="1.6" height="1.6" rx="0.5" fill="#1c1c1c"/>
<rect x="289.35" y="164.40" width="1.6" height="1.6" rx="0.5" fill="#1c1c1c"/>
<line x1="194.05" y1="246.5" x2="304.05" y2="246.5" stroke="#111" stroke-width="1.2" stroke-linecap="butt"/>
<line x1="194.75" y1="170.9" x2="194.75" y2="247.05" stroke="#111" stroke-width="1.4" stroke-linecap="butt"/>
<line x1="191.65" y1="246.5" x2="194.75" y2="246.5" stroke="#111" stroke-width="1.0" stroke-linecap="butt"/>
<text x="188.8" y="249.3" font-size="7.8" text-anchor="end" fill="#111" stroke="#111" stroke-width="0.16">0</text>
<line x1="191.65" y1="231.98" x2="194.75" y2="231.98" stroke="#111" stroke-width="1.0" stroke-linecap="butt"/>
<text x="188.8" y="234.78" font-size="7.8" text-anchor="end" fill="#111" stroke="#111" stroke-width="0.16">20</text>
<line x1="191.65" y1="217.46" x2="194.75" y2="217.46" stroke="#111" stroke-width="1.0" stroke-linecap="butt"/>
<text x="188.8" y="220.26000000000002" font-size="7.8" text-anchor="end" fill="#111" stroke="#111" stroke-width="0.16">40</text>
<line x1="191.65" y1="202.94" x2="194.75" y2="202.94" stroke="#111" stroke-width="1.0" stroke-linecap="butt"/>
<text x="188.8" y="205.74" font-size="7.8" text-anchor="end" fill="#111" stroke="#111" stroke-width="0.16">60</text>
<line x1="191.65" y1="188.42000000000002" x2="194.75" y2="188.42000000000002" stroke="#111" stroke-width="1.0" stroke-linecap="butt"/>
<text x="188.8" y="191.22000000000003" font-size="7.8" text-anchor="end" fill="#111" stroke="#111" stroke-width="0.16">80</text>
<line x1="191.65" y1="173.9" x2="194.75" y2="173.9" stroke="#111" stroke-width="1.0" stroke-linecap="butt"/>
<text x="188.8" y="176.70000000000002" font-size="7.8" text-anchor="end" fill="#111" stroke="#111" stroke-width="0.16">100</text>
<text x="249.45" y="285.3" font-size="9.3" text-anchor="middle" textLength="29.3" lengthAdjust="spacingAndGlyphs" fill="#111" stroke="#111" stroke-width="0.2">[MK2206]</text>
<text x="404.3" y="153.5" font-size="9.3" text-anchor="middle" textLength="21.2" lengthAdjust="spacingAndGlyphs" fill="#111" stroke="#111" stroke-width="0.16">XG-3</text>
<text transform="translate(324.00,208.60) rotate(-90)" font-size="8.5" text-anchor="middle" textLength="59.6" lengthAdjust="spacingAndGlyphs" word-spacing="1.2" fill="#111" stroke="#111" stroke-width="0.28">% specific cell death</text>
<line x1="357.45000000000005" y1="181.338" x2="357.45000000000005" y2="183.338" stroke="#333" stroke-width="0.8" stroke-linecap="butt"/>
<line x1="355.75000000000006" y1="181.338" x2="359.15000000000003" y2="181.338" stroke="#333" stroke-width="0.8" stroke-linecap="butt"/>
<rect x="354.50" y="183.59" width="5.90" height="62.91" fill="#69aa3b" stroke="#539a26" stroke-width="0.5"/>
<line x1="367.40000000000003" y1="181.838" x2="367.40000000000003" y2="183.338" stroke="#333" stroke-width="0.8" stroke-linecap="butt"/>
<line x1="365.70000000000005" y1="181.838" x2="369.1" y2="181.838" stroke="#333" stroke-width="0.8" stroke-linecap="butt"/>
<rect x="364.45" y="183.59" width="5.90" height="62.91" fill="#a80029" stroke="#96001f" stroke-width="0.5"/>
<line x1="377.35" y1="228.654" x2="377.35" y2="231.254" stroke="#333" stroke-width="0.8" stroke-linecap="butt"/>
<line x1="375.65000000000003" y1="228.654" x2="379.05" y2="228.654" stroke="#333" stroke-width="0.8" stroke-linecap="butt"/>
<rect x="374.40" y="231.50" width="5.90" height="15.00" fill="#2a4881" stroke="#1a3670" stroke-width="0.5"/>
<line x1="367.35" y1="246.5" x2="367.35" y2="249.3" stroke="#111" stroke-width="0.9" stroke-linecap="butt"/>
<text transform="translate(370.45,255.40) rotate(-45)" font-size="8.0" text-anchor="end" fill="#111" stroke="#111" stroke-width="0.2">1.6 μM</text>
<line x1="357.55000000000007" y1="179.0" x2="367.8500000000001" y2="179.0" stroke="#2a2a2a" stroke-width="1.0" stroke-linecap="butt"/>
<text x="362.70000000000005" y="177.55" font-size="7.1" text-anchor="middle" textLength="7.2" lengthAdjust="spacingAndGlyphs" fill="#222" stroke="#222" stroke-width="0.16">ns</text>
<line x1="357.55000000000007" y1="171.3" x2="377.55000000000007" y2="171.3" stroke="#2a2a2a" stroke-width="1.0" stroke-linecap="butt"/>
<rect x="362.40" y="166.50" width="1.6" height="1.6" rx="0.5" fill="#1c1c1c"/>
<rect x="365.30" y="166.50" width="1.6" height="1.6" rx="0.5" fill="#1c1c1c"/>
<rect x="368.20" y="166.50" width="1.6" height="1.6" rx="0.5" fill="#1c1c1c"/>
<rect x="371.10" y="166.50" width="1.6" height="1.6" rx="0.5" fill="#1c1c1c"/>
<line x1="393.90000000000003" y1="177.88200000000003" x2="393.90000000000003" y2="178.98200000000003" stroke="#333" stroke-width="0.8" stroke-linecap="butt"/>
<line x1="392.20000000000005" y1="177.88200000000003" x2="395.6" y2="177.88200000000003" stroke="#333" stroke-width="0.8" stroke-linecap="butt"/>
<rect x="390.95" y="179.23" width="5.90" height="67.27" fill="#69aa3b" stroke="#539a26" stroke-width="0.5"/>
<line x1="403.85" y1="178.708" x2="403.85" y2="179.708" stroke="#333" stroke-width="0.8" stroke-linecap="butt"/>
<line x1="402.15000000000003" y1="178.708" x2="405.55" y2="178.708" stroke="#333" stroke-width="0.8" stroke-linecap="butt"/>
<rect x="400.90" y="179.96" width="5.90" height="66.54" fill="#a80029" stroke="#96001f" stroke-width="0.5"/>
<line x1="413.8" y1="224.1336" x2="413.8" y2="227.3336" stroke="#333" stroke-width="0.8" stroke-linecap="butt"/>
<line x1="412.1" y1="224.1336" x2="415.5" y2="224.1336" stroke="#333" stroke-width="0.8" stroke-linecap="butt"/>
<rect x="410.85" y="227.58" width="5.90" height="18.92" fill="#2a4881" stroke="#1a3670" stroke-width="0.5"/>
<line x1="403.8" y1="246.5" x2="403.8" y2="249.3" stroke="#111" stroke-width="0.9" stroke-linecap="butt"/>
<text transform="translate(406.90,255.40) rotate(-45)" font-size="8.0" text-anchor="end" fill="#111" stroke="#111" stroke-width="0.2">3.2 μM</text>
<line x1="394.00000000000006" y1="175.5" x2="404.30000000000007" y2="175.5" stroke="#2a2a2a" stroke-width="1.0" stroke-linecap="butt"/>
<text x="399.1500000000001" y="174.05" font-size="7.1" text-anchor="middle" textLength="7.2" lengthAdjust="spacingAndGlyphs" fill="#222" stroke="#222" stroke-width="0.16">ns</text>
<line x1="394.00000000000006" y1="168.4" x2="414.00000000000006" y2="168.4" stroke="#2a2a2a" stroke-width="1.0" stroke-linecap="butt"/>
<rect x="398.85" y="163.60" width="1.6" height="1.6" rx="0.5" fill="#1c1c1c"/>
<rect x="401.75" y="163.60" width="1.6" height="1.6" rx="0.5" fill="#1c1c1c"/>
<rect x="404.65" y="163.60" width="1.6" height="1.6" rx="0.5" fill="#1c1c1c"/>
<rect x="407.55" y="163.60" width="1.6" height="1.6" rx="0.5" fill="#1c1c1c"/>
<line x1="430.3500000000001" y1="175.315" x2="430.3500000000001" y2="175.715" stroke="#333" stroke-width="0.8" stroke-linecap="butt"/>
<line x1="428.6500000000001" y1="175.315" x2="432.05000000000007" y2="175.315" stroke="#333" stroke-width="0.8" stroke-linecap="butt"/>
<rect x="427.40" y="175.97" width="5.90" height="70.53" fill="#69aa3b" stroke="#539a26" stroke-width="0.5"/>
<line x1="440.30000000000007" y1="175.578" x2="440.30000000000007" y2="176.078" stroke="#333" stroke-width="0.8" stroke-linecap="butt"/>
<line x1="438.6000000000001" y1="175.578" x2="442.00000000000006" y2="175.578" stroke="#333" stroke-width="0.8" stroke-linecap="butt"/>
<rect x="437.35" y="176.33" width="5.90" height="70.17" fill="#a80029" stroke="#96001f" stroke-width="0.5"/>
<line x1="450.25000000000006" y1="213.197" x2="450.25000000000006" y2="217.097" stroke="#333" stroke-width="0.8" stroke-linecap="butt"/>
<line x1="448.55000000000007" y1="213.197" x2="451.95000000000005" y2="213.197" stroke="#333" stroke-width="0.8" stroke-linecap="butt"/>
<rect x="447.30" y="217.35" width="5.90" height="29.15" fill="#2a4881" stroke="#1a3670" stroke-width="0.5"/>
<line x1="440.25000000000006" y1="246.5" x2="440.25000000000006" y2="249.3" stroke="#111" stroke-width="0.9" stroke-linecap="butt"/>
<text transform="translate(443.35,255.40) rotate(-45)" font-size="8.0" text-anchor="end" fill="#111" stroke="#111" stroke-width="0.2">6.4 μM</text>
<line x1="430.4500000000001" y1="172.1" x2="440.7500000000001" y2="172.1" stroke="#2a2a2a" stroke-width="1.0" stroke-linecap="butt"/>
<text x="435.60000000000014" y="170.65" font-size="7.1" text-anchor="middle" textLength="7.2" lengthAdjust="spacingAndGlyphs" fill="#222" stroke="#222" stroke-width="0.16">ns</text>
<line x1="430.4500000000001" y1="165.0" x2="450.4500000000001" y2="165.0" stroke="#2a2a2a" stroke-width="1.0" stroke-linecap="butt"/>
<rect x="435.30" y="160.20" width="1.6" height="1.6" rx="0.5" fill="#1c1c1c"/>
<rect x="438.20" y="160.20" width="1.6" height="1.6" rx="0.5" fill="#1c1c1c"/>
<rect x="441.10" y="160.20" width="1.6" height="1.6" rx="0.5" fill="#1c1c1c"/>
<rect x="444.00" y="160.20" width="1.6" height="1.6" rx="0.5" fill="#1c1c1c"/>
<line x1="348.85" y1="246.5" x2="458.85" y2="246.5" stroke="#111" stroke-width="1.2" stroke-linecap="butt"/>
<line x1="349.55" y1="170.9" x2="349.55" y2="247.05" stroke="#111" stroke-width="1.4" stroke-linecap="butt"/>
<line x1="346.45" y1="246.5" x2="349.55" y2="246.5" stroke="#111" stroke-width="1.0" stroke-linecap="butt"/>
<text x="343.6" y="249.3" font-size="7.8" text-anchor="end" fill="#111" stroke="#111" stroke-width="0.16">0</text>
<line x1="346.45" y1="231.98" x2="349.55" y2="231.98" stroke="#111" stroke-width="1.0" stroke-linecap="butt"/>
<text x="343.6" y="234.78" font-size="7.8" text-anchor="end" fill="#111" stroke="#111" stroke-width="0.16">20</text>
<line x1="346.45" y1="217.46" x2="349.55" y2="217.46" stroke="#111" stroke-width="1.0" stroke-linecap="butt"/>
<text x="343.6" y="220.26000000000002" font-size="7.8" text-anchor="end" fill="#111" stroke="#111" stroke-width="0.16">40</text>
<line x1="346.45" y1="202.94" x2="349.55" y2="202.94" stroke="#111" stroke-width="1.0" stroke-linecap="butt"/>
<text x="343.6" y="205.74" font-size="7.8" text-anchor="end" fill="#111" stroke="#111" stroke-width="0.16">60</text>
<line x1="346.45" y1="188.42000000000002" x2="349.55" y2="188.42000000000002" stroke="#111" stroke-width="1.0" stroke-linecap="butt"/>
<text x="343.6" y="191.22000000000003" font-size="7.8" text-anchor="end" fill="#111" stroke="#111" stroke-width="0.16">80</text>
<line x1="346.45" y1="173.9" x2="349.55" y2="173.9" stroke="#111" stroke-width="1.0" stroke-linecap="butt"/>
<text x="343.6" y="176.70000000000002" font-size="7.8" text-anchor="end" fill="#111" stroke="#111" stroke-width="0.16">100</text>
<text x="404.25" y="285.3" font-size="9.3" text-anchor="middle" textLength="29.3" lengthAdjust="spacingAndGlyphs" fill="#111" stroke="#111" stroke-width="0.2">[MK2206]</text>
<rect x="462.45" y="173.35" width="7.80" height="3.50" fill="#69aa3b" stroke="#539a26" stroke-width="0.6"/>
<text x="473.8" y="177.7" font-size="7.5" textLength="24.7" lengthAdjust="spacingAndGlyphs" fill="#111" stroke="#111" stroke-width="0.16">Control</text>
<rect x="462.45" y="184.95" width="7.80" height="3.50" fill="#a80029" stroke="#96001f" stroke-width="0.6"/>
<text x="473.8" y="189.29999999999998" font-size="7.5" textLength="38.5" lengthAdjust="spacingAndGlyphs" fill="#111" stroke="#111" stroke-width="0.16">FOXO1 KO</text>
<rect x="462.45" y="196.55" width="7.80" height="3.50" fill="#2a4881" stroke="#1a3670" stroke-width="0.6"/>
<text x="473.8" y="200.9" font-size="7.5" textLength="38.5" lengthAdjust="spacingAndGlyphs" fill="#111" stroke="#111" stroke-width="0.16">FOXO3 KO</text>
<text x="58.2" y="323.6" font-size="9.2" text-anchor="middle" textLength="25.2" lengthAdjust="spacingAndGlyphs" fill="#111" stroke="#111" stroke-width="0.16">LME-1</text>
<text transform="translate(14.35,365.23) rotate(-90)" font-size="8.5" text-anchor="middle" textLength="60.2" lengthAdjust="spacingAndGlyphs" word-spacing="1.2" fill="#111" stroke="#111" stroke-width="0.28">% specific cell death</text>
<line x1="49.25" y1="340.2925" x2="49.25" y2="340.7925" stroke="#333" stroke-width="0.8" stroke-linecap="butt"/>
<line x1="46.45" y1="340.2925" x2="52.05" y2="340.2925" stroke="#333" stroke-width="0.8" stroke-linecap="butt"/>
<rect x="43.40" y="341.04" width="11.70" height="57.31" fill="#4f2466" stroke="#43195a" stroke-width="0.5"/>
<line x1="67.7" y1="388.67875000000004" x2="67.7" y2="389.17875000000004" stroke="#333" stroke-width="0.8" stroke-linecap="butt"/>
<line x1="64.60000000000001" y1="388.67875000000004" x2="70.8" y2="388.67875000000004" stroke="#333" stroke-width="0.8" stroke-linecap="butt"/>
<rect x="61.75" y="389.43" width="11.90" height="8.92" fill="#da8b15" stroke="#cc7f0c" stroke-width="0.5"/>
<line x1="49.3" y1="337.1" x2="67.8" y2="337.1" stroke="#2a2a2a" stroke-width="1.0" stroke-linecap="butt"/>
<rect x="53.40" y="332.30" width="1.6" height="1.6" rx="0.5" fill="#1c1c1c"/>
<rect x="56.30" y="332.30" width="1.6" height="1.6" rx="0.5" fill="#1c1c1c"/>
<rect x="59.20" y="332.30" width="1.6" height="1.6" rx="0.5" fill="#1c1c1c"/>
<rect x="62.10" y="332.30" width="1.6" height="1.6" rx="0.5" fill="#1c1c1c"/>
<line x1="39.4" y1="398.35" x2="77.30000000000001" y2="398.35" stroke="#111" stroke-width="1.2" stroke-linecap="butt"/>
<line x1="40.1" y1="332.1" x2="40.1" y2="398.90000000000003" stroke="#111" stroke-width="1.4" stroke-linecap="butt"/>
<line x1="37.0" y1="398.35" x2="40.1" y2="398.35" stroke="#111" stroke-width="1.0" stroke-linecap="butt"/>
<text x="33.699999999999996" y="401.15000000000003" font-size="7.8" text-anchor="end" fill="#111" stroke="#111" stroke-width="0.16">0</text>
<line x1="37.0" y1="385.70000000000005" x2="40.1" y2="385.70000000000005" stroke="#111" stroke-width="1.0" stroke-linecap="butt"/>
<text x="33.699999999999996" y="388.50000000000006" font-size="7.8" text-anchor="end" fill="#111" stroke="#111" stroke-width="0.16">20</text>
<line x1="37.0" y1="373.05" x2="40.1" y2="373.05" stroke="#111" stroke-width="1.0" stroke-linecap="butt"/>
<text x="33.699999999999996" y="375.85" font-size="7.8" text-anchor="end" fill="#111" stroke="#111" stroke-width="0.16">40</text>
<line x1="37.0" y1="360.40000000000003" x2="40.1" y2="360.40000000000003" stroke="#111" stroke-width="1.0" stroke-linecap="butt"/>
<text x="33.699999999999996" y="363.20000000000005" font-size="7.8" text-anchor="end" fill="#111" stroke="#111" stroke-width="0.16">60</text>
<line x1="37.0" y1="347.75" x2="40.1" y2="347.75" stroke="#111" stroke-width="1.0" stroke-linecap="butt"/>
<text x="33.699999999999996" y="350.55" font-size="7.8" text-anchor="end" fill="#111" stroke="#111" stroke-width="0.16">80</text>
<line x1="37.0" y1="335.1" x2="40.1" y2="335.1" stroke="#111" stroke-width="1.0" stroke-linecap="butt"/>
<text x="33.699999999999996" y="337.90000000000003" font-size="7.8" text-anchor="end" fill="#111" stroke="#111" stroke-width="0.16">100</text>
<text x="144.4" y="323.6" font-size="9.2" text-anchor="middle" textLength="21.2" lengthAdjust="spacingAndGlyphs" fill="#111" stroke="#111" stroke-width="0.16">XG-3</text>
<text transform="translate(99.80,365.23) rotate(-90)" font-size="8.5" text-anchor="middle" textLength="60.2" lengthAdjust="spacingAndGlyphs" word-spacing="1.2" fill="#111" stroke="#111" stroke-width="0.28">% specific cell death</text>
<line x1="134.7" y1="340.40875000000005" x2="134.7" y2="341.10875000000004" stroke="#333" stroke-width="0.8" stroke-linecap="butt"/>
<line x1="131.89999999999998" y1="340.40875000000005" x2="137.5" y2="340.40875000000005" stroke="#333" stroke-width="0.8" stroke-linecap="butt"/>
<rect x="128.85" y="341.36" width="11.70" height="56.99" fill="#4f2466" stroke="#43195a" stroke-width="0.5"/>
<line x1="153.14999999999998" y1="367.98750000000007" x2="153.14999999999998" y2="369.88750000000005" stroke="#333" stroke-width="0.8" stroke-linecap="butt"/>
<line x1="150.04999999999998" y1="367.98750000000007" x2="156.24999999999997" y2="367.98750000000007" stroke="#333" stroke-width="0.8" stroke-linecap="butt"/>
<rect x="147.20" y="370.14" width="11.90" height="28.21" fill="#da8b15" stroke="#cc7f0c" stroke-width="0.5"/>
<line x1="134.75" y1="337.1" x2="153.25" y2="337.1" stroke="#2a2a2a" stroke-width="1.0" stroke-linecap="butt"/>
<rect x="140.30" y="332.30" width="1.6" height="1.6" rx="0.5" fill="#1c1c1c"/>
<rect x="143.20" y="332.30" width="1.6" height="1.6" rx="0.5" fill="#1c1c1c"/>
<rect x="146.10" y="332.30" width="1.6" height="1.6" rx="0.5" fill="#1c1c1c"/>
<line x1="124.85" y1="398.35" x2="162.75" y2="398.35" stroke="#111" stroke-width="1.2" stroke-linecap="butt"/>
<line x1="125.55" y1="332.1" x2="125.55" y2="398.90000000000003" stroke="#111" stroke-width="1.4" stroke-linecap="butt"/>
<line x1="122.45" y1="398.35" x2="125.55" y2="398.35" stroke="#111" stroke-width="1.0" stroke-linecap="butt"/>
<text x="119.14999999999999" y="401.15000000000003" font-size="7.8" text-anchor="end" fill="#111" stroke="#111" stroke-width="0.16">0</text>
<line x1="122.45" y1="385.70000000000005" x2="125.55" y2="385.70000000000005" stroke="#111" stroke-width="1.0" stroke-linecap="butt"/>
<text x="119.14999999999999" y="388.50000000000006" font-size="7.8" text-anchor="end" fill="#111" stroke="#111" stroke-width="0.16">20</text>
<line x1="122.45" y1="373.05" x2="125.55" y2="373.05" stroke="#111" stroke-width="1.0" stroke-linecap="butt"/>
<text x="119.14999999999999" y="375.85" font-size="7.8" text-anchor="end" fill="#111" stroke="#111" stroke-width="0.16">40</text>
<line x1="122.45" y1="360.40000000000003" x2="125.55" y2="360.40000000000003" stroke="#111" stroke-width="1.0" stroke-linecap="butt"/>
<text x="119.14999999999999" y="363.20000000000005" font-size="7.8" text-anchor="end" fill="#111" stroke="#111" stroke-width="0.16">60</text>
<line x1="122.45" y1="347.75" x2="125.55" y2="347.75" stroke="#111" stroke-width="1.0" stroke-linecap="butt"/>
<text x="119.14999999999999" y="350.55" font-size="7.8" text-anchor="end" fill="#111" stroke="#111" stroke-width="0.16">80</text>
<line x1="122.45" y1="335.1" x2="125.55" y2="335.1" stroke="#111" stroke-width="1.0" stroke-linecap="butt"/>
<text x="119.14999999999999" y="337.90000000000003" font-size="7.8" text-anchor="end" fill="#111" stroke="#111" stroke-width="0.16">100</text>
<text x="229.7" y="323.6" font-size="9.2" text-anchor="middle" textLength="32.3" lengthAdjust="spacingAndGlyphs" fill="#111" stroke="#111" stroke-width="0.16">ANBL-6</text>
<text transform="translate(185.25,365.23) rotate(-90)" font-size="8.5" text-anchor="middle" textLength="60.2" lengthAdjust="spacingAndGlyphs" word-spacing="1.2" fill="#111" stroke="#111" stroke-width="0.28">% specific cell death</text>
<line x1="220.15" y1="360.72225000000003" x2="220.15" y2="361.22225000000003" stroke="#333" stroke-width="0.8" stroke-linecap="butt"/>
<line x1="217.35" y1="360.72225000000003" x2="222.95000000000002" y2="360.72225000000003" stroke="#333" stroke-width="0.8" stroke-linecap="butt"/>
<rect x="214.30" y="361.47" width="11.70" height="36.88" fill="#4f2466" stroke="#43195a" stroke-width="0.5"/>
<line x1="238.6" y1="377.475" x2="238.6" y2="379.375" stroke="#333" stroke-width="0.8" stroke-linecap="butt"/>
<line x1="235.5" y1="377.475" x2="241.7" y2="377.475" stroke="#333" stroke-width="0.8" stroke-linecap="butt"/>
<rect x="232.65" y="379.62" width="11.90" height="18.73" fill="#da8b15" stroke="#cc7f0c" stroke-width="0.5"/>
<line x1="220.2" y1="356.9" x2="238.7" y2="356.9" stroke="#2a2a2a" stroke-width="1.0" stroke-linecap="butt"/>
<rect x="227.20" y="352.10" width="1.6" height="1.6" rx="0.5" fill="#1c1c1c"/>
<rect x="230.10" y="352.10" width="1.6" height="1.6" rx="0.5" fill="#1c1c1c"/>
<line x1="210.3" y1="398.35" x2="248.2" y2="398.35" stroke="#111" stroke-width="1.2" stroke-linecap="butt"/>
<line x1="211.0" y1="332.1" x2="211.0" y2="398.90000000000003" stroke="#111" stroke-width="1.4" stroke-linecap="butt"/>
<line x1="207.9" y1="398.35" x2="211.0" y2="398.35" stroke="#111" stroke-width="1.0" stroke-linecap="butt"/>
<text x="204.60000000000002" y="401.15000000000003" font-size="7.8" text-anchor="end" fill="#111" stroke="#111" stroke-width="0.16">0</text>
<line x1="207.9" y1="385.70000000000005" x2="211.0" y2="385.70000000000005" stroke="#111" stroke-width="1.0" stroke-linecap="butt"/>
<text x="204.60000000000002" y="388.50000000000006" font-size="7.8" text-anchor="end" fill="#111" stroke="#111" stroke-width="0.16">20</text>
<line x1="207.9" y1="373.05" x2="211.0" y2="373.05" stroke="#111" stroke-width="1.0" stroke-linecap="butt"/>
<text x="204.60000000000002" y="375.85" font-size="7.8" text-anchor="end" fill="#111" stroke="#111" stroke-width="0.16">40</text>
<line x1="207.9" y1="360.40000000000003" x2="211.0" y2="360.40000000000003" stroke="#111" stroke-width="1.0" stroke-linecap="butt"/>
<text x="204.60000000000002" y="363.20000000000005" font-size="7.8" text-anchor="end" fill="#111" stroke="#111" stroke-width="0.16">60</text>
<line x1="207.9" y1="347.75" x2="211.0" y2="347.75" stroke="#111" stroke-width="1.0" stroke-linecap="butt"/>
<text x="204.60000000000002" y="350.55" font-size="7.8" text-anchor="end" fill="#111" stroke="#111" stroke-width="0.16">80</text>
<line x1="207.9" y1="335.1" x2="211.0" y2="335.1" stroke="#111" stroke-width="1.0" stroke-linecap="butt"/>
<text x="204.60000000000002" y="337.90000000000003" font-size="7.8" text-anchor="end" fill="#111" stroke="#111" stroke-width="0.16">100</text>
<text x="314.3" y="323.6" font-size="9.2" text-anchor="middle" textLength="19.8" lengthAdjust="spacingAndGlyphs" fill="#111" stroke="#111" stroke-width="0.16">XG-1</text>
<text transform="translate(270.75,365.23) rotate(-90)" font-size="8.5" text-anchor="middle" textLength="60.2" lengthAdjust="spacingAndGlyphs" word-spacing="1.2" fill="#111" stroke="#111" stroke-width="0.28">% specific cell death</text>
<line x1="305.65000000000003" y1="386.2505" x2="305.65000000000003" y2="387.8505" stroke="#333" stroke-width="0.8" stroke-linecap="butt"/>
<line x1="302.85" y1="386.2505" x2="308.45000000000005" y2="386.2505" stroke="#333" stroke-width="0.8" stroke-linecap="butt"/>
<rect x="299.80" y="388.10" width="11.70" height="10.25" fill="#4f2466" stroke="#43195a" stroke-width="0.5"/>
<line x1="324.09999999999997" y1="391.278" x2="324.09999999999997" y2="392.278" stroke="#333" stroke-width="0.8" stroke-linecap="butt"/>
<line x1="320.99999999999994" y1="391.278" x2="327.2" y2="391.278" stroke="#333" stroke-width="0.8" stroke-linecap="butt"/>
<rect x="318.15" y="392.53" width="11.90" height="5.82" fill="#da8b15" stroke="#cc7f0c" stroke-width="0.5"/>
<line x1="305.7" y1="383.3" x2="324.2" y2="383.3" stroke="#2a2a2a" stroke-width="1.0" stroke-linecap="butt"/>
<rect x="312.70" y="378.50" width="1.6" height="1.6" rx="0.5" fill="#1c1c1c"/>
<rect x="315.60" y="378.50" width="1.6" height="1.6" rx="0.5" fill="#1c1c1c"/>
<line x1="295.8" y1="398.35" x2="333.7" y2="398.35" stroke="#111" stroke-width="1.2" stroke-linecap="butt"/>
<line x1="296.5" y1="332.1" x2="296.5" y2="398.90000000000003" stroke="#111" stroke-width="1.4" stroke-linecap="butt"/>
<line x1="293.4" y1="398.35" x2="296.5" y2="398.35" stroke="#111" stroke-width="1.0" stroke-linecap="butt"/>
<text x="290.1" y="401.15000000000003" font-size="7.8" text-anchor="end" fill="#111" stroke="#111" stroke-width="0.16">0</text>
<line x1="293.4" y1="385.70000000000005" x2="296.5" y2="385.70000000000005" stroke="#111" stroke-width="1.0" stroke-linecap="butt"/>
<text x="290.1" y="388.50000000000006" font-size="7.8" text-anchor="end" fill="#111" stroke="#111" stroke-width="0.16">20</text>
<line x1="293.4" y1="373.05" x2="296.5" y2="373.05" stroke="#111" stroke-width="1.0" stroke-linecap="butt"/>
<text x="290.1" y="375.85" font-size="7.8" text-anchor="end" fill="#111" stroke="#111" stroke-width="0.16">40</text>
<line x1="293.4" y1="360.40000000000003" x2="296.5" y2="360.40000000000003" stroke="#111" stroke-width="1.0" stroke-linecap="butt"/>
<text x="290.1" y="363.20000000000005" font-size="7.8" text-anchor="end" fill="#111" stroke="#111" stroke-width="0.16">60</text>
<line x1="293.4" y1="347.75" x2="296.5" y2="347.75" stroke="#111" stroke-width="1.0" stroke-linecap="butt"/>
<text x="290.1" y="350.55" font-size="7.8" text-anchor="end" fill="#111" stroke="#111" stroke-width="0.16">80</text>
<line x1="293.4" y1="335.1" x2="296.5" y2="335.1" stroke="#111" stroke-width="1.0" stroke-linecap="butt"/>
<text x="290.1" y="337.90000000000003" font-size="7.8" text-anchor="end" fill="#111" stroke="#111" stroke-width="0.16">100</text>
<text x="400.4" y="323.6" font-size="9.2" text-anchor="middle" textLength="28.8" lengthAdjust="spacingAndGlyphs" fill="#111" stroke="#111" stroke-width="0.16">MM1.S</text>
<text transform="translate(356.05,365.23) rotate(-90)" font-size="8.5" text-anchor="middle" textLength="60.2" lengthAdjust="spacingAndGlyphs" word-spacing="1.2" fill="#111" stroke="#111" stroke-width="0.28">% specific cell death</text>
<line x1="390.95000000000005" y1="337.89500000000004" x2="390.95000000000005" y2="338.89500000000004" stroke="#333" stroke-width="0.8" stroke-linecap="butt"/>
<line x1="388.15000000000003" y1="337.89500000000004" x2="393.75000000000006" y2="337.89500000000004" stroke="#333" stroke-width="0.8" stroke-linecap="butt"/>
<rect x="385.10" y="339.15" width="11.70" height="59.20" fill="#4f2466" stroke="#43195a" stroke-width="0.5"/>
<line x1="409.4" y1="340.7900000000001" x2="409.4" y2="342.69000000000005" stroke="#333" stroke-width="0.8" stroke-linecap="butt"/>
<line x1="406.29999999999995" y1="340.7900000000001" x2="412.5" y2="340.7900000000001" stroke="#333" stroke-width="0.8" stroke-linecap="butt"/>
<rect x="403.45" y="342.94" width="11.90" height="55.41" fill="#da8b15" stroke="#cc7f0c" stroke-width="0.5"/>
<line x1="391.0" y1="335.1" x2="409.5" y2="335.1" stroke="#2a2a2a" stroke-width="1.0" stroke-linecap="butt"/>
<rect x="399.45" y="330.30" width="1.6" height="1.6" rx="0.5" fill="#1c1c1c"/>
<line x1="381.1" y1="398.35" x2="419.0" y2="398.35" stroke="#111" stroke-width="1.2" stroke-linecap="butt"/>
<line x1="381.8" y1="332.1" x2="381.8" y2="398.90000000000003" stroke="#111" stroke-width="1.4" stroke-linecap="butt"/>
<line x1="378.7" y1="398.35" x2="381.8" y2="398.35" stroke="#111" stroke-width="1.0" stroke-linecap="butt"/>
<text x="375.40000000000003" y="401.15000000000003" font-size="7.8" text-anchor="end" fill="#111" stroke="#111" stroke-width="0.16">0</text>
<line x1="378.7" y1="385.70000000000005" x2="381.8" y2="385.70000000000005" stroke="#111" stroke-width="1.0" stroke-linecap="butt"/>
<text x="375.40000000000003" y="388.50000000000006" font-size="7.8" text-anchor="end" fill="#111" stroke="#111" stroke-width="0.16">20</text>
<line x1="378.7" y1="373.05" x2="381.8" y2="373.05" stroke="#111" stroke-width="1.0" stroke-linecap="butt"/>
<text x="375.40000000000003" y="375.85" font-size="7.8" text-anchor="end" fill="#111" stroke="#111" stroke-width="0.16">40</text>
<line x1="378.7" y1="360.40000000000003" x2="381.8" y2="360.40000000000003" stroke="#111" stroke-width="1.0" stroke-linecap="butt"/>
<text x="375.40000000000003" y="363.20000000000005" font-size="7.8" text-anchor="end" fill="#111" stroke="#111" stroke-width="0.16">60</text>
<line x1="378.7" y1="347.75" x2="381.8" y2="347.75" stroke="#111" stroke-width="1.0" stroke-linecap="butt"/>
<text x="375.40000000000003" y="350.55" font-size="7.8" text-anchor="end" fill="#111" stroke="#111" stroke-width="0.16">80</text>
<line x1="378.7" y1="335.1" x2="381.8" y2="335.1" stroke="#111" stroke-width="1.0" stroke-linecap="butt"/>
<text x="375.40000000000003" y="337.90000000000003" font-size="7.8" text-anchor="end" fill="#111" stroke="#111" stroke-width="0.16">100</text>
<text x="58.9" y="438.8" font-size="9.2" text-anchor="middle" textLength="20.6" lengthAdjust="spacingAndGlyphs" fill="#111" stroke="#111" stroke-width="0.16">AMC</text>
<text x="58.9" y="449.9" font-size="9.2" text-anchor="middle" textLength="21.6" lengthAdjust="spacingAndGlyphs" fill="#111" stroke="#111" stroke-width="0.16">4389</text>
<text transform="translate(14.35,491.45) rotate(-90)" font-size="8.5" text-anchor="middle" textLength="60.2" lengthAdjust="spacingAndGlyphs" word-spacing="1.2" fill="#111" stroke="#111" stroke-width="0.28">% specific cell death</text>
<line x1="49.25" y1="522.4380000000001" x2="49.25" y2="523.238" stroke="#333" stroke-width="0.8" stroke-linecap="butt"/>
<line x1="46.45" y1="522.4380000000001" x2="52.05" y2="522.4380000000001" stroke="#333" stroke-width="0.8" stroke-linecap="butt"/>
<rect x="43.40" y="523.49" width="11.70" height="1.01" fill="#4f2466" stroke="#43195a" stroke-width="0.5"/>
<line x1="67.7" y1="523.269" x2="67.7" y2="523.869" stroke="#333" stroke-width="0.8" stroke-linecap="butt"/>
<line x1="64.60000000000001" y1="523.269" x2="70.8" y2="523.269" stroke="#333" stroke-width="0.8" stroke-linecap="butt"/>
<rect x="61.75" y="524.12" width="11.90" height="0.38" fill="#da8b15" stroke="#cc7f0c" stroke-width="0.5"/>
<line x1="49.3" y1="518.5" x2="67.8" y2="518.5" stroke="#2a2a2a" stroke-width="1.0" stroke-linecap="butt"/>
<text x="58.55" y="513.75" font-size="7.1" text-anchor="middle" textLength="7.2" lengthAdjust="spacingAndGlyphs" fill="#222" stroke="#222" stroke-width="0.16">ns</text>
<line x1="39.4" y1="524.5" x2="77.30000000000001" y2="524.5" stroke="#111" stroke-width="1.2" stroke-linecap="butt"/>
<line x1="40.1" y1="458.4" x2="40.1" y2="525.05" stroke="#111" stroke-width="1.4" stroke-linecap="butt"/>
<line x1="37.0" y1="524.5" x2="40.1" y2="524.5" stroke="#111" stroke-width="1.0" stroke-linecap="butt"/>
<text x="33.699999999999996" y="527.3" font-size="7.8" text-anchor="end" fill="#111" stroke="#111" stroke-width="0.16">0</text>
<line x1="37.0" y1="511.88" x2="40.1" y2="511.88" stroke="#111" stroke-width="1.0" stroke-linecap="butt"/>
<text x="33.699999999999996" y="514.68" font-size="7.8" text-anchor="end" fill="#111" stroke="#111" stroke-width="0.16">20</text>
<line x1="37.0" y1="499.26" x2="40.1" y2="499.26" stroke="#111" stroke-width="1.0" stroke-linecap="butt"/>
<text x="33.699999999999996" y="502.06" font-size="7.8" text-anchor="end" fill="#111" stroke="#111" stroke-width="0.16">40</text>
<line x1="37.0" y1="486.64" x2="40.1" y2="486.64" stroke="#111" stroke-width="1.0" stroke-linecap="butt"/>
<text x="33.699999999999996" y="489.44" font-size="7.8" text-anchor="end" fill="#111" stroke="#111" stroke-width="0.16">60</text>
<line x1="37.0" y1="474.02" x2="40.1" y2="474.02" stroke="#111" stroke-width="1.0" stroke-linecap="butt"/>
<text x="33.699999999999996" y="476.82" font-size="7.8" text-anchor="end" fill="#111" stroke="#111" stroke-width="0.16">80</text>
<line x1="37.0" y1="461.4" x2="40.1" y2="461.4" stroke="#111" stroke-width="1.0" stroke-linecap="butt"/>
<text x="33.699999999999996" y="464.2" font-size="7.8" text-anchor="end" fill="#111" stroke="#111" stroke-width="0.16">100</text>
<text x="144.4" y="438.8" font-size="9.2" text-anchor="middle" textLength="20.6" lengthAdjust="spacingAndGlyphs" fill="#111" stroke="#111" stroke-width="0.16">AMC</text>
<text x="144.4" y="449.9" font-size="9.2" text-anchor="middle" textLength="21.6" lengthAdjust="spacingAndGlyphs" fill="#111" stroke="#111" stroke-width="0.16">9946</text>
<text transform="translate(99.80,491.45) rotate(-90)" font-size="8.5" text-anchor="middle" textLength="60.2" lengthAdjust="spacingAndGlyphs" word-spacing="1.2" fill="#111" stroke="#111" stroke-width="0.28">% specific cell death</text>
<line x1="134.7" y1="498.029" x2="134.7" y2="498.629" stroke="#333" stroke-width="0.8" stroke-linecap="butt"/>
<line x1="131.89999999999998" y1="498.029" x2="137.5" y2="498.029" stroke="#333" stroke-width="0.8" stroke-linecap="butt"/>
<rect x="128.85" y="498.88" width="11.70" height="25.62" fill="#4f2466" stroke="#43195a" stroke-width="0.5"/>
<line x1="153.14999999999998" y1="515.3077000000001" x2="153.14999999999998" y2="516.1077" stroke="#333" stroke-width="0.8" stroke-linecap="butt"/>
<line x1="150.04999999999998" y1="515.3077000000001" x2="156.24999999999997" y2="515.3077000000001" stroke="#333" stroke-width="0.8" stroke-linecap="butt"/>
<rect x="147.20" y="516.36" width="11.90" height="8.14" fill="#da8b15" stroke="#cc7f0c" stroke-width="0.5"/>
<line x1="134.75" y1="495.0" x2="153.25" y2="495.0" stroke="#2a2a2a" stroke-width="1.0" stroke-linecap="butt"/>
<rect x="138.85" y="490.20" width="1.6" height="1.6" rx="0.5" fill="#1c1c1c"/>
<rect x="141.75" y="490.20" width="1.6" height="1.6" rx="0.5" fill="#1c1c1c"/>
<rect x="144.65" y="490.20" width="1.6" height="1.6" rx="0.5" fill="#1c1c1c"/>
<rect x="147.55" y="490.20" width="1.6" height="1.6" rx="0.5" fill="#1c1c1c"/>
<line x1="124.85" y1="524.5" x2="162.75" y2="524.5" stroke="#111" stroke-width="1.2" stroke-linecap="butt"/>
<line x1="125.55" y1="458.4" x2="125.55" y2="525.05" stroke="#111" stroke-width="1.4" stroke-linecap="butt"/>
<line x1="122.45" y1="524.5" x2="125.55" y2="524.5" stroke="#111" stroke-width="1.0" stroke-linecap="butt"/>
<text x="119.14999999999999" y="527.3" font-size="7.8" text-anchor="end" fill="#111" stroke="#111" stroke-width="0.16">0</text>
<line x1="122.45" y1="511.88" x2="125.55" y2="511.88" stroke="#111" stroke-width="1.0" stroke-linecap="butt"/>
<text x="119.14999999999999" y="514.68" font-size="7.8" text-anchor="end" fill="#111" stroke="#111" stroke-width="0.16">20</text>
<line x1="122.45" y1="499.26" x2="125.55" y2="499.26" stroke="#111" stroke-width="1.0" stroke-linecap="butt"/>
<text x="119.14999999999999" y="502.06" font-size="7.8" text-anchor="end" fill="#111" stroke="#111" stroke-width="0.16">40</text>
<line x1="122.45" y1="486.64" x2="125.55" y2="486.64" stroke="#111" stroke-width="1.0" stroke-linecap="butt"/>
<text x="119.14999999999999" y="489.44" font-size="7.8" text-anchor="end" fill="#111" stroke="#111" stroke-width="0.16">60</text>
<line x1="122.45" y1="474.02" x2="125.55" y2="474.02" stroke="#111" stroke-width="1.0" stroke-linecap="butt"/>
<text x="119.14999999999999" y="476.82" font-size="7.8" text-anchor="end" fill="#111" stroke="#111" stroke-width="0.16">80</text>
<line x1="122.45" y1="461.4" x2="125.55" y2="461.4" stroke="#111" stroke-width="1.0" stroke-linecap="butt"/>
<text x="119.14999999999999" y="464.2" font-size="7.8" text-anchor="end" fill="#111" stroke="#111" stroke-width="0.16">100</text>
<text x="229.8" y="438.8" font-size="9.2" text-anchor="middle" textLength="20.6" lengthAdjust="spacingAndGlyphs" fill="#111" stroke="#111" stroke-width="0.16">AMC</text>
<text x="229.8" y="449.9" font-size="9.2" text-anchor="middle" textLength="21.6" lengthAdjust="spacingAndGlyphs" fill="#111" stroke="#111" stroke-width="0.16">0713</text>
<text transform="translate(185.25,491.45) rotate(-90)" font-size="8.5" text-anchor="middle" textLength="60.2" lengthAdjust="spacingAndGlyphs" word-spacing="1.2" fill="#111" stroke="#111" stroke-width="0.28">% specific cell death</text>
<line x1="220.15" y1="473.882" x2="220.15" y2="475.282" stroke="#333" stroke-width="0.8" stroke-linecap="butt"/>
<line x1="217.35" y1="473.882" x2="222.95000000000002" y2="473.882" stroke="#333" stroke-width="0.8" stroke-linecap="butt"/>
<rect x="214.30" y="475.53" width="11.70" height="48.97" fill="#4f2466" stroke="#43195a" stroke-width="0.5"/>
<line x1="238.6" y1="520.2653" x2="238.6" y2="522.1653" stroke="#333" stroke-width="0.8" stroke-linecap="butt"/>
<line x1="235.5" y1="520.2653" x2="241.7" y2="520.2653" stroke="#333" stroke-width="0.8" stroke-linecap="butt"/>
<rect x="232.65" y="522.42" width="11.90" height="2.08" fill="#da8b15" stroke="#cc7f0c" stroke-width="0.5"/>
<line x1="220.2" y1="470.4" x2="238.7" y2="470.4" stroke="#2a2a2a" stroke-width="1.0" stroke-linecap="butt"/>
<rect x="224.30" y="465.60" width="1.6" height="1.6" rx="0.5" fill="#1c1c1c"/>
<rect x="227.20" y="465.60" width="1.6" height="1.6" rx="0.5" fill="#1c1c1c"/>
<rect x="230.10" y="465.60" width="1.6" height="1.6" rx="0.5" fill="#1c1c1c"/>
<rect x="233.00" y="465.60" width="1.6" height="1.6" rx="0.5" fill="#1c1c1c"/>
<line x1="210.3" y1="524.5" x2="248.2" y2="524.5" stroke="#111" stroke-width="1.2" stroke-linecap="butt"/>
<line x1="211.0" y1="458.4" x2="211.0" y2="525.05" stroke="#111" stroke-width="1.4" stroke-linecap="butt"/>
<line x1="207.9" y1="524.5" x2="211.0" y2="524.5" stroke="#111" stroke-width="1.0" stroke-linecap="butt"/>
<text x="204.60000000000002" y="527.3" font-size="7.8" text-anchor="end" fill="#111" stroke="#111" stroke-width="0.16">0</text>
<line x1="207.9" y1="511.88" x2="211.0" y2="511.88" stroke="#111" stroke-width="1.0" stroke-linecap="butt"/>
<text x="204.60000000000002" y="514.68" font-size="7.8" text-anchor="end" fill="#111" stroke="#111" stroke-width="0.16">20</text>
<line x1="207.9" y1="499.26" x2="211.0" y2="499.26" stroke="#111" stroke-width="1.0" stroke-linecap="butt"/>
<text x="204.60000000000002" y="502.06" font-size="7.8" text-anchor="end" fill="#111" stroke="#111" stroke-width="0.16">40</text>
<line x1="207.9" y1="486.64" x2="211.0" y2="486.64" stroke="#111" stroke-width="1.0" stroke-linecap="butt"/>
<text x="204.60000000000002" y="489.44" font-size="7.8" text-anchor="end" fill="#111" stroke="#111" stroke-width="0.16">60</text>
<line x1="207.9" y1="474.02" x2="211.0" y2="474.02" stroke="#111" stroke-width="1.0" stroke-linecap="butt"/>
<text x="204.60000000000002" y="476.82" font-size="7.8" text-anchor="end" fill="#111" stroke="#111" stroke-width="0.16">80</text>
<line x1="207.9" y1="461.4" x2="211.0" y2="461.4" stroke="#111" stroke-width="1.0" stroke-linecap="butt"/>
<text x="204.60000000000002" y="464.2" font-size="7.8" text-anchor="end" fill="#111" stroke="#111" stroke-width="0.16">100</text>
<text x="315.4" y="438.8" font-size="9.2" text-anchor="middle" textLength="20.6" lengthAdjust="spacingAndGlyphs" fill="#111" stroke="#111" stroke-width="0.16">AMC</text>
<text x="315.4" y="449.9" font-size="9.2" text-anchor="middle" textLength="21.6" lengthAdjust="spacingAndGlyphs" fill="#111" stroke="#111" stroke-width="0.16">1345</text>
<text transform="translate(270.75,491.45) rotate(-90)" font-size="8.5" text-anchor="middle" textLength="60.2" lengthAdjust="spacingAndGlyphs" word-spacing="1.2" fill="#111" stroke="#111" stroke-width="0.28">% specific cell death</text>
<line x1="305.65000000000003" y1="465.81" x2="305.65000000000003" y2="467.71" stroke="#333" stroke-width="0.8" stroke-linecap="butt"/>
<line x1="302.85" y1="465.81" x2="308.45000000000005" y2="465.81" stroke="#333" stroke-width="0.8" stroke-linecap="butt"/>
<rect x="299.80" y="467.96" width="11.70" height="56.54" fill="#4f2466" stroke="#43195a" stroke-width="0.5"/>
<line x1="324.09999999999997" y1="479.85029999999995" x2="324.09999999999997" y2="481.15029999999996" stroke="#333" stroke-width="0.8" stroke-linecap="butt"/>
<line x1="320.99999999999994" y1="479.85029999999995" x2="327.2" y2="479.85029999999995" stroke="#333" stroke-width="0.8" stroke-linecap="butt"/>
<rect x="318.15" y="481.40" width="11.90" height="43.10" fill="#da8b15" stroke="#cc7f0c" stroke-width="0.5"/>
<line x1="305.7" y1="462.7" x2="324.2" y2="462.7" stroke="#2a2a2a" stroke-width="1.0" stroke-linecap="butt"/>
<rect x="311.25" y="457.90" width="1.6" height="1.6" rx="0.5" fill="#1c1c1c"/>
<rect x="314.15" y="457.90" width="1.6" height="1.6" rx="0.5" fill="#1c1c1c"/>
<rect x="317.05" y="457.90" width="1.6" height="1.6" rx="0.5" fill="#1c1c1c"/>
<line x1="295.8" y1="524.5" x2="333.7" y2="524.5" stroke="#111" stroke-width="1.2" stroke-linecap="butt"/>
<line x1="296.5" y1="458.4" x2="296.5" y2="525.05" stroke="#111" stroke-width="1.4" stroke-linecap="butt"/>
<line x1="293.4" y1="524.5" x2="296.5" y2="524.5" stroke="#111" stroke-width="1.0" stroke-linecap="butt"/>
<text x="290.1" y="527.3" font-size="7.8" text-anchor="end" fill="#111" stroke="#111" stroke-width="0.16">0</text>
<line x1="293.4" y1="511.88" x2="296.5" y2="511.88" stroke="#111" stroke-width="1.0" stroke-linecap="butt"/>
<text x="290.1" y="514.68" font-size="7.8" text-anchor="end" fill="#111" stroke="#111" stroke-width="0.16">20</text>
<line x1="293.4" y1="499.26" x2="296.5" y2="499.26" stroke="#111" stroke-width="1.0" stroke-linecap="butt"/>
<text x="290.1" y="502.06" font-size="7.8" text-anchor="end" fill="#111" stroke="#111" stroke-width="0.16">40</text>
<line x1="293.4" y1="486.64" x2="296.5" y2="486.64" stroke="#111" stroke-width="1.0" stroke-linecap="butt"/>
<text x="290.1" y="489.44" font-size="7.8" text-anchor="end" fill="#111" stroke="#111" stroke-width="0.16">60</text>
<line x1="293.4" y1="474.02" x2="296.5" y2="474.02" stroke="#111" stroke-width="1.0" stroke-linecap="butt"/>
<text x="290.1" y="476.82" font-size="7.8" text-anchor="end" fill="#111" stroke="#111" stroke-width="0.16">80</text>
<line x1="293.4" y1="461.4" x2="296.5" y2="461.4" stroke="#111" stroke-width="1.0" stroke-linecap="butt"/>
<text x="290.1" y="464.2" font-size="7.8" text-anchor="end" fill="#111" stroke="#111" stroke-width="0.16">100</text>
<text x="400.9" y="438.8" font-size="9.2" text-anchor="middle" textLength="20.6" lengthAdjust="spacingAndGlyphs" fill="#111" stroke="#111" stroke-width="0.16">AMC</text>
<text x="400.9" y="449.9" font-size="9.2" text-anchor="middle" textLength="21.6" lengthAdjust="spacingAndGlyphs" fill="#111" stroke="#111" stroke-width="0.16">6615</text>
<text transform="translate(356.05,491.45) rotate(-90)" font-size="8.5" text-anchor="middle" textLength="60.2" lengthAdjust="spacingAndGlyphs" word-spacing="1.2" fill="#111" stroke="#111" stroke-width="0.28">% specific cell death</text>
<line x1="390.95000000000005" y1="464.90149999999994" x2="390.95000000000005" y2="465.50149999999996" stroke="#333" stroke-width="0.8" stroke-linecap="butt"/>
<line x1="388.15000000000003" y1="464.90149999999994" x2="393.75000000000006" y2="464.90149999999994" stroke="#333" stroke-width="0.8" stroke-linecap="butt"/>
<rect x="385.10" y="465.75" width="11.70" height="58.75" fill="#4f2466" stroke="#43195a" stroke-width="0.5"/>
<line x1="409.4" y1="506.86299999999994" x2="409.4" y2="507.46299999999997" stroke="#333" stroke-width="0.8" stroke-linecap="butt"/>
<line x1="406.29999999999995" y1="506.86299999999994" x2="412.5" y2="506.86299999999994" stroke="#333" stroke-width="0.8" stroke-linecap="butt"/>
<rect x="403.45" y="507.71" width="11.90" height="16.79" fill="#da8b15" stroke="#cc7f0c" stroke-width="0.5"/>
<line x1="391.0" y1="461.3" x2="409.5" y2="461.3" stroke="#2a2a2a" stroke-width="1.0" stroke-linecap="butt"/>
<rect x="395.10" y="456.50" width="1.6" height="1.6" rx="0.5" fill="#1c1c1c"/>
<rect x="398.00" y="456.50" width="1.6" height="1.6" rx="0.5" fill="#1c1c1c"/>
<rect x="400.90" y="456.50" width="1.6" height="1.6" rx="0.5" fill="#1c1c1c"/>
<rect x="403.80" y="456.50" width="1.6" height="1.6" rx="0.5" fill="#1c1c1c"/>
<line x1="381.1" y1="524.5" x2="419.0" y2="524.5" stroke="#111" stroke-width="1.2" stroke-linecap="butt"/>
<line x1="381.8" y1="458.4" x2="381.8" y2="525.05" stroke="#111" stroke-width="1.4" stroke-linecap="butt"/>
<line x1="378.7" y1="524.5" x2="381.8" y2="524.5" stroke="#111" stroke-width="1.0" stroke-linecap="butt"/>
<text x="375.40000000000003" y="527.3" font-size="7.8" text-anchor="end" fill="#111" stroke="#111" stroke-width="0.16">0</text>
<line x1="378.7" y1="511.88" x2="381.8" y2="511.88" stroke="#111" stroke-width="1.0" stroke-linecap="butt"/>
<text x="375.40000000000003" y="514.68" font-size="7.8" text-anchor="end" fill="#111" stroke="#111" stroke-width="0.16">20</text>
<line x1="378.7" y1="499.26" x2="381.8" y2="499.26" stroke="#111" stroke-width="1.0" stroke-linecap="butt"/>
<text x="375.40000000000003" y="502.06" font-size="7.8" text-anchor="end" fill="#111" stroke="#111" stroke-width="0.16">40</text>
<line x1="378.7" y1="486.64" x2="381.8" y2="486.64" stroke="#111" stroke-width="1.0" stroke-linecap="butt"/>
<text x="375.40000000000003" y="489.44" font-size="7.8" text-anchor="end" fill="#111" stroke="#111" stroke-width="0.16">60</text>
<line x1="378.7" y1="474.02" x2="381.8" y2="474.02" stroke="#111" stroke-width="1.0" stroke-linecap="butt"/>
<text x="375.40000000000003" y="476.82" font-size="7.8" text-anchor="end" fill="#111" stroke="#111" stroke-width="0.16">80</text>
<line x1="378.7" y1="461.4" x2="381.8" y2="461.4" stroke="#111" stroke-width="1.0" stroke-linecap="butt"/>
<text x="375.40000000000003" y="464.2" font-size="7.8" text-anchor="end" fill="#111" stroke="#111" stroke-width="0.16">100</text>
<rect x="422.40" y="334.30" width="6.20" height="3.10" fill="#4f2466"/>
<text x="431.8" y="338.25" font-size="7.2" textLength="28.3" lengthAdjust="spacingAndGlyphs" fill="#111" stroke="#111" stroke-width="0.16">MK2206</text>
<rect x="422.40" y="345.40" width="6.20" height="3.20" fill="#da8b15"/>
<text x="431.8" y="349.25" font-size="7.2" textLength="57.1" lengthAdjust="spacingAndGlyphs" fill="#111" stroke="#111" stroke-width="0.16">MK + FOXO1 inh.</text>
<rect x="422.40" y="460.50" width="6.20" height="3.10" fill="#4f2466"/>
<text x="431.8" y="464.45" font-size="7.2" textLength="28.3" lengthAdjust="spacingAndGlyphs" fill="#111" stroke="#111" stroke-width="0.16">MK2206</text>
<rect x="422.40" y="471.60" width="6.20" height="3.20" fill="#da8b15"/>
<text x="431.8" y="475.45" font-size="7.2" textLength="57.1" lengthAdjust="spacingAndGlyphs" fill="#111" stroke="#111" stroke-width="0.16">MK + FOXO1 inh.</text>
</svg></body></html>
